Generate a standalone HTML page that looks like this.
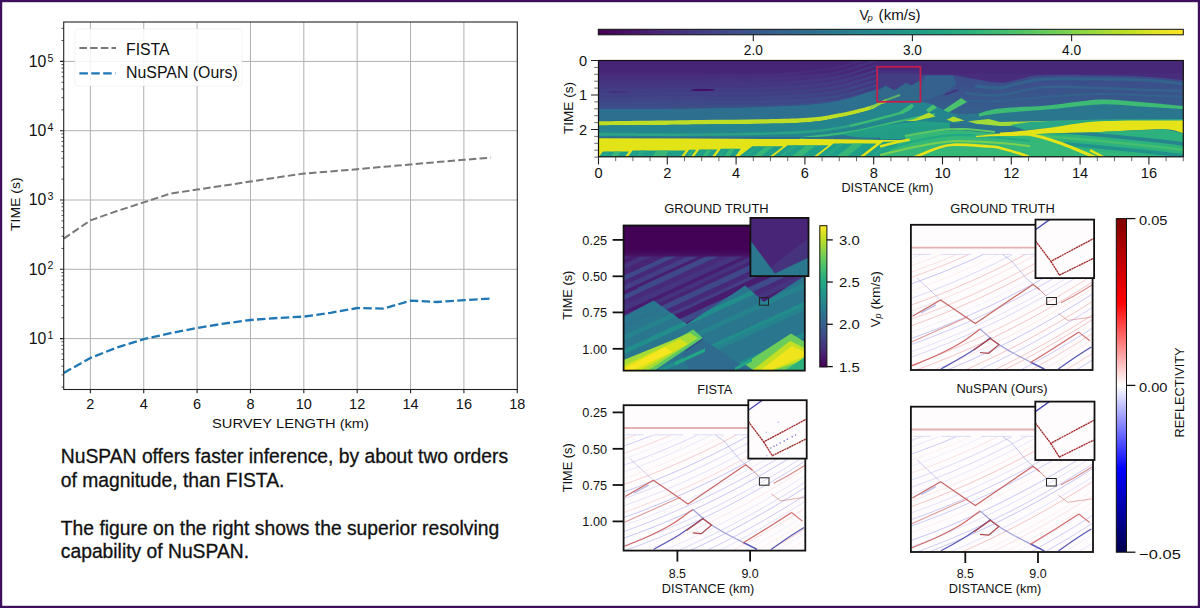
<!DOCTYPE html><html><head><meta charset="utf-8"><style>
html,body{margin:0;padding:0;background:#fff;width:1200px;height:608px;overflow:hidden}
svg{display:block}
text{font-family:"Liberation Sans", sans-serif}
</style></head><body>
<svg width="1200" height="608" viewBox="0 0 1200 608">
<rect x="0" y="0" width="1200" height="608" fill="#fff"/>
<g id="leftchart">
<path d="M90.38 22.0V389.5 M143.74 22.0V389.5 M197.10 22.0V389.5 M250.46 22.0V389.5 M303.82 22.0V389.5 M357.18 22.0V389.5 M410.54 22.0V389.5 M463.90 22.0V389.5 M63.7 338.60H517.3 M63.7 269.30H517.3 M63.7 200.00H517.3 M63.7 130.70H517.3 M63.7 61.40H517.3" stroke="#b0b0b0" stroke-width="1" fill="none"/>
<path d="M63.70 238.60 L90.38 220.40 L117.06 211.00 L143.74 202.40 L170.42 193.60 L197.10 189.60 L223.78 185.60 L250.46 181.60 L277.14 177.40 L303.82 173.60 L330.50 171.40 L357.18 169.20 L383.86 166.80 L410.54 164.40 L437.22 162.10 L463.90 159.80 L490.58 157.60" stroke="#787878" stroke-width="2" fill="none" stroke-dasharray="7.5 3.2"/>
<path d="M63.70 373.00 L90.38 358.00 L117.06 347.50 L143.74 339.20 L170.42 333.20 L197.10 328.00 L223.78 323.60 L250.46 320.00 L277.14 318.00 L303.82 316.60 L330.50 312.80 L357.18 308.00 L383.86 308.60 L410.54 300.60 L437.22 302.00 L463.90 300.20 L490.58 298.60" stroke="#1f77b4" stroke-width="2.3" fill="none" stroke-dasharray="8.5 3.4"/>
<rect x="75" y="29" width="167" height="57" rx="3" fill="#fff" fill-opacity="0.85" stroke="#e8e8e8" stroke-opacity="0.5" stroke-width="1"/>
<path d="M79.4 48H116" stroke="#787878" stroke-width="2" stroke-dasharray="7.5 3.2"/>
<path d="M79.4 73.3H115.5" stroke="#1f77b4" stroke-width="2.3" stroke-dasharray="8.5 3.4"/>
<text x="126.00" y="54.70" font-size="16.8" text-anchor="start" fill="#111" textLength="43.6" lengthAdjust="spacingAndGlyphs" >FISTA</text>
<text x="126.00" y="77.80" font-size="16.8" text-anchor="start" fill="#111" textLength="111.8" lengthAdjust="spacingAndGlyphs" >NuSPAN (Ours)</text>
<rect x="63.7" y="22.0" width="453.60" height="367.5" fill="none" stroke="#222" stroke-width="1.1"/>
<path d="M90.38 389.5V393.2 M143.74 389.5V393.2 M197.10 389.5V393.2 M250.46 389.5V393.2 M303.82 389.5V393.2 M357.18 389.5V393.2 M410.54 389.5V393.2 M463.90 389.5V393.2 M517.26 389.5V393.2 M63.7 338.60H60.0 M63.7 269.30H60.0 M63.7 200.00H60.0 M63.7 130.70H60.0 M63.7 61.40H60.0" stroke="#222" stroke-width="1.1"/>
<path d="M63.7 387.04H61.5 M63.7 374.84H61.5 M63.7 366.18H61.5 M63.7 359.46H61.5 M63.7 353.97H61.5 M63.7 349.33H61.5 M63.7 345.32H61.5 M63.7 341.77H61.5 M63.7 317.74H61.5 M63.7 305.54H61.5 M63.7 296.88H61.5 M63.7 290.16H61.5 M63.7 284.67H61.5 M63.7 280.03H61.5 M63.7 276.02H61.5 M63.7 272.47H61.5 M63.7 248.44H61.5 M63.7 236.24H61.5 M63.7 227.58H61.5 M63.7 220.86H61.5 M63.7 215.37H61.5 M63.7 210.73H61.5 M63.7 206.72H61.5 M63.7 203.17H61.5 M63.7 179.14H61.5 M63.7 166.94H61.5 M63.7 158.28H61.5 M63.7 151.56H61.5 M63.7 146.07H61.5 M63.7 141.43H61.5 M63.7 137.42H61.5 M63.7 133.87H61.5 M63.7 109.84H61.5 M63.7 97.64H61.5 M63.7 88.98H61.5 M63.7 82.26H61.5 M63.7 76.77H61.5 M63.7 72.13H61.5 M63.7 68.12H61.5 M63.7 64.57H61.5 M63.7 40.54H61.5 M63.7 28.34H61.5" stroke="#222" stroke-width="0.8"/>
<text x="90.38" y="409.30" font-size="14.5" text-anchor="middle" fill="#111" >2</text>
<text x="143.74" y="409.30" font-size="14.5" text-anchor="middle" fill="#111" >4</text>
<text x="197.10" y="409.30" font-size="14.5" text-anchor="middle" fill="#111" >6</text>
<text x="250.46" y="409.30" font-size="14.5" text-anchor="middle" fill="#111" >8</text>
<text x="303.82" y="409.30" font-size="14.5" text-anchor="middle" fill="#111" >10</text>
<text x="357.18" y="409.30" font-size="14.5" text-anchor="middle" fill="#111" >12</text>
<text x="410.54" y="409.30" font-size="14.5" text-anchor="middle" fill="#111" >14</text>
<text x="463.90" y="409.30" font-size="14.5" text-anchor="middle" fill="#111" >16</text>
<text x="517.26" y="409.30" font-size="14.5" text-anchor="middle" fill="#111" >18</text>
<text x="28.70" y="344.00" font-size="15.8" text-anchor="start" fill="#111" >10</text>
<text x="47.50" y="338.70" font-size="10.6" text-anchor="start" fill="#111" >1</text>
<text x="28.70" y="274.70" font-size="15.8" text-anchor="start" fill="#111" >10</text>
<text x="47.50" y="269.40" font-size="10.6" text-anchor="start" fill="#111" >2</text>
<text x="28.70" y="205.40" font-size="15.8" text-anchor="start" fill="#111" >10</text>
<text x="47.50" y="200.10" font-size="10.6" text-anchor="start" fill="#111" >3</text>
<text x="28.70" y="136.10" font-size="15.8" text-anchor="start" fill="#111" >10</text>
<text x="47.50" y="130.80" font-size="10.6" text-anchor="start" fill="#111" >4</text>
<text x="28.70" y="66.80" font-size="15.8" text-anchor="start" fill="#111" >10</text>
<text x="47.50" y="61.50" font-size="10.6" text-anchor="start" fill="#111" >5</text>
<text x="290.50" y="427.50" font-size="13.6" text-anchor="middle" fill="#111" textLength="157" lengthAdjust="spacingAndGlyphs" >SURVEY LENGTH (km)</text>
<text transform="translate(20.3,204.2) rotate(-90)" x="0" y="0" font-size="13.6" text-anchor="middle" fill="#111" textLength="53.5" lengthAdjust="spacingAndGlyphs">TIME (s)</text>
</g>
<text x="60.80" y="463.30" font-size="19.3" text-anchor="start" fill="#111" stroke="#111" stroke-width="0.3">NuSPAN offers faster inference, by about two orders</text>
<text x="60.80" y="487.40" font-size="19.3" text-anchor="start" fill="#111" stroke="#111" stroke-width="0.3">of magnitude, than FISTA.</text>
<text x="60.80" y="535.40" font-size="19.3" text-anchor="start" fill="#111" stroke="#111" stroke-width="0.3">The figure on the right shows the superior resolving</text>
<text x="60.80" y="558.40" font-size="19.3" text-anchor="start" fill="#111" stroke="#111" stroke-width="0.3">capability of NuSPAN.</text>
<defs>
<linearGradient id="virH" x1="0" y1="0" x2="1" y2="0"><stop offset="0.000" stop-color="#440154"/><stop offset="0.100" stop-color="#482475"/><stop offset="0.200" stop-color="#414487"/><stop offset="0.300" stop-color="#355f8d"/><stop offset="0.400" stop-color="#2a788e"/><stop offset="0.500" stop-color="#21918c"/><stop offset="0.600" stop-color="#22a884"/><stop offset="0.700" stop-color="#44bf70"/><stop offset="0.800" stop-color="#7ad151"/><stop offset="0.900" stop-color="#bddf26"/><stop offset="1.000" stop-color="#fde725"/></linearGradient>
<linearGradient id="virV" x1="0" y1="1" x2="0" y2="0"><stop offset="0.000" stop-color="#440154"/><stop offset="0.100" stop-color="#482475"/><stop offset="0.200" stop-color="#414487"/><stop offset="0.300" stop-color="#355f8d"/><stop offset="0.400" stop-color="#2a788e"/><stop offset="0.500" stop-color="#21918c"/><stop offset="0.600" stop-color="#22a884"/><stop offset="0.700" stop-color="#44bf70"/><stop offset="0.800" stop-color="#7ad151"/><stop offset="0.900" stop-color="#bddf26"/><stop offset="1.000" stop-color="#fde725"/></linearGradient>
<linearGradient id="seisV" x1="0" y1="1" x2="0" y2="0"><stop offset="0" stop-color="#00004d"/><stop offset="0.25" stop-color="#0000ff"/><stop offset="0.5" stop-color="#ffffff"/><stop offset="0.75" stop-color="#ff0000"/><stop offset="1" stop-color="#800000"/></linearGradient>
</defs>
<rect x="598.3" y="29.3" width="585.0" height="5.5" fill="url(#virH)" stroke="#111" stroke-width="1"/>
<path d="M753.3 34.8V41.3" stroke="#222" stroke-width="1.1"/>
<text x="753.30" y="55.00" font-size="13.8" text-anchor="middle" fill="#111" textLength="19" lengthAdjust="spacingAndGlyphs" >2.0</text>
<path d="M912.4 34.8V41.3" stroke="#222" stroke-width="1.1"/>
<text x="912.40" y="55.00" font-size="13.8" text-anchor="middle" fill="#111" textLength="19" lengthAdjust="spacingAndGlyphs" >3.0</text>
<path d="M1071.6 34.8V41.3" stroke="#222" stroke-width="1.1"/>
<text x="1071.60" y="55.00" font-size="13.8" text-anchor="middle" fill="#111" textLength="19" lengthAdjust="spacingAndGlyphs" >4.0</text>
<text x="859.50" y="19.80" font-size="14" text-anchor="start" fill="#111" >V</text>
<text x="867.60" y="20.60" font-size="9.5" text-anchor="start" fill="#111" font-style="italic">p</text>
<text x="878.60" y="19.80" font-size="14" text-anchor="start" fill="#111" textLength="42" lengthAdjust="spacingAndGlyphs" >(km/s)</text>
<clipPath id="topclip"><rect x="598.5" y="60.5" width="584.8" height="96.3"/></clipPath>
<g clip-path="url(#topclip)" id="topimg">
<rect x="598.5" y="60.5" width="584.8" height="96.3" fill="#3b528b"/>
<defs><linearGradient id="pg" gradientUnits="userSpaceOnUse" x1="0" y1="60" x2="0" y2="108"><stop offset="0" stop-color="#482576"/><stop offset="0.27" stop-color="#482878"/><stop offset="0.32" stop-color="#472e7c"/><stop offset="0.6" stop-color="#443983"/><stop offset="1" stop-color="#3d4d89"/></linearGradient><linearGradient id="bg2" gradientUnits="userSpaceOnUse" x1="0" y1="75" x2="0" y2="110"><stop offset="0" stop-color="#3e4a89"/><stop offset="1" stop-color="#355e8d"/></linearGradient></defs>
<rect x="598.5" y="60.5" width="584.8" height="96.30000000000001" fill="#2a768e"/>
<path d="M598.0 100.0C615.0 100.0 666.3 100.3 700.0 100.0C733.7 99.7 776.7 99.2 800.0 98.0C823.3 96.8 828.3 95.2 840.0 93.0C851.7 90.8 863.3 86.7 870.0 85.0C876.7 83.3 878.3 83.3 880.0 83.0L880.0 102.2C878.3 102.9 876.7 104.3 870.0 106.2C863.3 108.1 851.7 111.4 840.0 113.4C828.3 115.4 823.3 117.3 800.0 118.4C776.7 119.5 733.7 119.7 700.0 120.2C666.3 120.7 615.0 121.3 598.0 121.5Z" fill="#2d6f8e" />
<path d="M921.0 60.0C964.8 60.0 1140.2 60.0 1184.0 60.0L1183.0 107.5C1169.2 106.6 1122.2 102.0 1100.0 102.0C1077.8 102.0 1066.7 105.7 1050.0 107.2C1033.3 108.7 1015.0 109.7 1000.0 110.8C985.0 111.9 973.2 115.1 960.0 114.0C946.8 112.9 927.5 105.7 921.0 104.0Z" fill="url(#bg2)" />
<path d="M598.0 60.0C644.5 60.0 830.5 60.0 877.0 60.0L877.0 90.0C875.8 90.2 876.2 89.8 870.0 91.5C863.8 93.2 851.7 98.0 840.0 100.3C828.3 102.6 823.3 103.8 800.0 105.2C776.7 106.6 733.7 107.8 700.0 108.4C666.3 109.0 615.0 108.9 598.0 109.0Z" fill="url(#pg)" />
<path d="M870.0 91.5 L877.0 91.0 L885.6 85.4 L894.2 90.5 L906.2 82.8 L911.3 85.4 L921.0 80.0 L921.0 104.0 L877.0 104.0Z" fill="#31698d" />
<path d="M877.0 60.0 L921.0 60.0 L921.0 80.0 L911.3 85.4 L906.2 82.8 L894.2 90.5 L885.6 85.4 L877.0 91.0Z" fill="#433d84" />
<path d="M877.0 60.0 L921.0 60.0 L921.0 70.0 L877.0 70.0Z" fill="#472a7a" />
<path d="M921.0 60.0C964.8 60.0 1140.2 60.0 1184.0 60.0L1184.0 80.1C1178.3 79.6 1164.0 77.7 1150.0 76.9C1136.0 76.1 1118.3 75.6 1100.0 75.3C1081.7 75.0 1053.3 74.7 1040.0 75.3C1026.7 75.9 1026.7 77.8 1020.0 79.0C1013.3 80.2 1007.5 82.6 1000.0 82.6C992.5 82.6 982.8 80.2 975.0 79.0C967.2 77.8 962.2 75.9 953.2 75.3C944.2 74.7 926.4 75.3 921.0 75.3Z" fill="#472d7b" />
<path d="M598.0 60.0C695.7 60.0 1086.3 60.0 1184.0 60.0L1184.0 73.5C1120.0 73.5 897.7 73.6 800.0 73.5C702.3 73.4 631.7 73.0 598.0 72.9Z" fill="#482576" opacity="0.6"/>
<clipPath id="pzc"><path d="M598.0 60.0C644.5 60.0 830.5 60.0 877.0 60.0L877.0 90.0C875.8 90.2 876.2 89.8 870.0 91.5C863.8 93.2 851.7 98.0 840.0 100.3C828.3 102.6 823.3 103.8 800.0 105.2C776.7 106.6 733.7 107.8 700.0 108.4C666.3 109.0 615.0 108.9 598.0 109.0Z" fill="#000" /></clipPath><g clip-path="url(#pzc)">
<path d="M598.0 76.0C615.0 76.0 673.0 75.9 700.0 75.7C727.0 75.5 743.3 75.5 760.0 75.0C776.7 74.5 786.7 73.8 800.0 72.5C813.3 71.1 826.7 70.0 840.0 66.9C853.3 63.8 873.3 56.0 880.0 53.9" fill="none" stroke="#472f7c" stroke-width="2" opacity="0.9"/>
<path d="M598.0 80.5C615.0 80.5 673.0 80.4 700.0 80.2C727.0 80.0 743.3 80.0 760.0 79.5C776.7 79.0 786.7 78.4 800.0 77.1C813.3 75.8 826.7 74.8 840.0 71.7C853.3 68.7 873.3 61.1 880.0 59.0" fill="none" stroke="#46337f" stroke-width="2" opacity="0.9"/>
<path d="M598.0 85.0C615.0 85.0 673.0 84.9 700.0 84.7C727.0 84.5 743.3 84.5 760.0 84.0C776.7 83.5 786.7 83.0 800.0 81.8C813.3 80.5 826.7 79.5 840.0 76.5C853.3 73.6 873.3 66.1 880.0 64.1" fill="none" stroke="#45387f" stroke-width="2.2" opacity="0.9"/>
<path d="M598.0 89.5C615.0 89.5 673.0 89.4 700.0 89.2C727.0 89.0 743.3 89.0 760.0 88.5C776.7 88.0 786.7 87.6 800.0 86.4C813.3 85.2 826.7 84.2 840.0 81.3C853.3 78.5 873.3 71.2 880.0 69.2" fill="none" stroke="#433e85" stroke-width="2.2" opacity="0.9"/>
<path d="M598.0 94.0C615.0 94.0 673.0 93.9 700.0 93.7C727.0 93.5 743.3 93.4 760.0 93.0C776.7 92.6 786.7 92.2 800.0 91.1C813.3 89.9 826.7 88.9 840.0 86.1C853.3 83.3 873.3 76.2 880.0 74.3" fill="none" stroke="#414386" stroke-width="2.2" opacity="0.9"/>
<path d="M598.0 98.5C615.0 98.5 673.0 98.4 700.0 98.2C727.0 98.0 743.3 97.9 760.0 97.5C776.7 97.1 786.7 96.8 800.0 95.7C813.3 94.6 826.7 93.7 840.0 90.9C853.3 88.2 873.3 81.3 880.0 79.4" fill="none" stroke="#3f4788" stroke-width="2.2" opacity="0.9"/>
<path d="M598.0 103.0C615.0 103.0 673.0 102.9 700.0 102.7C727.0 102.5 743.3 102.4 760.0 102.0C776.7 101.6 786.7 101.4 800.0 100.4C813.3 99.3 826.7 98.4 840.0 95.7C853.3 93.1 873.3 86.3 880.0 84.5" fill="none" stroke="#3d4d89" stroke-width="2.2" opacity="0.9"/>
<path d="M598.0 107.0C615.0 107.0 673.0 106.9 700.0 106.7C727.0 106.5 743.3 106.4 760.0 106.0C776.7 105.6 786.7 105.5 800.0 104.5C813.3 103.5 826.7 102.6 840.0 100.0C853.3 97.4 873.3 90.8 880.0 89.0" fill="none" stroke="#3b518b" stroke-width="2" opacity="0.9"/>
</g>
<ellipse cx="703" cy="89.9" rx="12" ry="1.2" fill="#440f66"/>
<ellipse cx="618" cy="92" rx="10" ry="0.8" fill="#45206f" opacity="0.6"/>
<path d="M975.0 86.0C979.2 86.3 992.5 88.5 1000.0 88.0C1007.5 87.5 1012.5 84.5 1020.0 83.0C1027.5 81.5 1031.7 79.7 1045.0 79.0C1058.3 78.3 1082.5 78.8 1100.0 79.0C1117.5 79.2 1136.0 79.7 1150.0 80.5C1164.0 81.3 1178.3 83.4 1184.0 84.0" fill="none" stroke="#33638d" stroke-width="3" />
<path d="M965.0 93.0C970.8 93.3 986.7 96.0 1000.0 95.0C1013.3 94.0 1028.3 88.2 1045.0 87.0C1061.7 85.8 1082.5 87.5 1100.0 88.0C1117.5 88.5 1136.0 89.5 1150.0 90.0C1164.0 90.5 1178.3 90.8 1184.0 91.0" fill="none" stroke="#34618d" stroke-width="2.5" />
<path d="M960.0 101.0C966.7 101.0 985.8 101.7 1000.0 101.0C1014.2 100.3 1028.3 98.2 1045.0 97.0C1061.7 95.8 1076.8 94.0 1100.0 94.0C1123.2 94.0 1170.0 96.5 1184.0 97.0" fill="none" stroke="#33628d" stroke-width="2" />
<path d="M925.8 75.3 L953.2 75.3 L956.5 84.2 L945.0 93.0 L930.0 99.0 L921.0 102.0 L921.0 84.0Z" fill="#34618d" />
<path d="M945.0 94.7 L958.0 89.8" fill="none" stroke="#46307f" stroke-width="1.5" />
<path d="M921.0 104.0C927.5 105.7 946.8 112.9 960.0 114.0C973.2 115.1 985.0 111.9 1000.0 110.8C1015.0 109.7 1033.3 108.7 1050.0 107.2C1066.7 105.7 1077.8 102.0 1100.0 102.0C1122.2 102.0 1169.2 106.6 1183.0 107.5L1184.0 121.0C1140.2 121.7 964.8 124.3 921.0 125.0Z" fill="#2a768e" />
<path d="M979.0 113.2C982.5 112.4 988.2 109.7 1000.0 108.4C1011.8 107.1 1033.3 106.7 1050.0 105.2C1066.7 103.7 1085.0 100.0 1100.0 99.5C1115.0 99.0 1126.2 100.9 1140.0 102.0C1153.8 103.1 1175.8 105.3 1183.0 106.0L1183.0 109.1C1175.8 108.7 1153.8 107.3 1140.0 106.5C1126.2 105.7 1115.0 104.0 1100.0 104.4C1085.0 104.9 1066.7 107.7 1050.0 109.2C1033.3 110.7 1011.8 112.0 1000.0 113.2C988.2 114.4 982.5 116.0 979.0 116.5Z" fill="#3dbb74" />
<path d="M598.0 121.3C615.0 121.1 666.3 120.5 700.0 120.0C733.7 119.5 776.7 119.3 800.0 118.2C823.3 117.1 828.3 115.2 840.0 113.2C851.7 111.2 863.3 107.9 870.0 106.0C876.7 104.1 877.3 103.2 880.0 102.0C882.7 100.8 885.0 99.5 886.0 99.0L886.0 103.0C885.0 103.5 882.7 104.8 880.0 106.0C877.3 107.2 876.7 108.1 870.0 110.0C863.3 111.9 851.7 115.2 840.0 117.3C828.3 119.4 823.3 121.5 800.0 122.7C776.7 123.9 733.7 124.0 700.0 124.5C666.3 125.0 615.0 125.3 598.0 125.5Z" fill="#bede26" />
<path d="M870.0 108.0C872.3 106.8 879.0 103.2 884.0 101.0C889.0 98.8 897.3 96.0 900.0 95.0" fill="none" stroke="#6ccd5a" stroke-width="2.2" opacity="0.7"/>
<path d="M598.0 125.5C615.0 125.3 666.3 125.0 700.0 124.5C733.7 124.0 776.7 123.9 800.0 122.7C823.3 121.5 828.3 119.4 840.0 117.3C851.7 115.2 862.3 112.4 870.0 110.0C877.7 107.6 877.5 104.3 886.0 103.0C894.5 101.7 912.0 101.2 921.0 102.0C930.0 102.8 933.5 105.3 940.0 108.0C946.5 110.7 956.7 116.3 960.0 118.0L960.0 125.0C953.3 125.2 936.7 124.7 920.0 126.0C903.3 127.3 880.0 131.1 860.0 133.0C840.0 134.9 843.7 136.8 800.0 137.5C756.3 138.2 631.7 137.1 598.0 137.0Z" fill="#24858e" />
<path d="M598.0 132.8C615.0 132.9 666.3 133.7 700.0 133.4C733.7 133.1 775.0 132.5 800.0 131.0C825.0 129.5 833.3 127.7 850.0 124.5C866.7 121.3 889.7 114.8 900.0 111.6C910.3 108.3 910.0 106.1 912.0 105.0L912.0 108.0C910.0 109.1 910.3 111.3 900.0 114.5C889.7 117.7 866.7 123.8 850.0 127.0C833.3 130.2 825.0 132.1 800.0 133.6C775.0 135.1 733.7 135.4 700.0 135.8C666.3 136.2 615.0 135.8 598.0 135.8Z" fill="#2ba285" />
<path d="M850.0 126.0C858.3 123.8 889.7 116.2 900.0 113.0C910.3 109.8 910.0 108.0 912.0 107.0" fill="none" stroke="#3dbb74" stroke-width="2" />
<path d="M800.0 138.0C808.3 137.0 833.3 134.8 850.0 132.0C866.7 129.2 885.8 124.0 900.0 121.0C914.2 118.0 929.2 115.2 935.0 114.0" fill="none" stroke="#3aba76" stroke-width="2" />
<path d="M943.5 110.0 L961.3 97.9 L967.0 102.0 L948.4 112.4Z" fill="#4ac16d" />
<path d="M925.8 110.0 L933.0 104.4 L937.0 107.6 L929.0 112.4Z" fill="#4ac16d" />
<path d="M900.0 111.6 L912.0 103.5 L914.0 106.5 L902.0 114.5Z" fill="#3dbb74" />
<path d="M905.0 121.0 L914.5 118.9 L929.0 112.4 L935.5 116.5 L915.0 121.0Z" fill="#b5de2b" />
<path d="M946.8 119.7 L953.2 116.5 L964.5 120.5 L953.2 122.1Z" fill="#b5de2b" />
<path d="M967.7 121.3 L988.7 118.9 L1000.0 122.1 L1040.0 121.0 L1100.0 120.5 L1100.0 124.0 L1000.0 126.1 L975.8 123.7Z" fill="#a2da37" />
<path d="M840.0 134.5 L880.0 126.0 L920.0 121.0 L950.0 123.0 L950.0 131.0 L920.0 135.0 L900.0 139.0 L870.0 139.5Z" fill="#22a385" opacity="0.85"/>
<path d="M950.0 123.0 L990.0 126.0 L1020.0 128.0 L1040.0 131.0 L1000.0 136.0 L975.0 136.0 L950.0 128.0Z" fill="#2d708e" />
<path d="M598.0 137.1C631.7 137.2 753.0 137.4 800.0 137.6C847.0 137.8 866.7 138.3 880.0 138.5" fill="none" stroke="#2d6e8e" stroke-width="1.3" />
<path d="M598.0 138.3 L700.0 138.7 L800.0 139.0 L880.0 140.0 L908.0 140.6 L908.0 141.2 L880.0 142.0 L850.0 143.0 L800.0 144.8 L758.0 145.3 L740.0 147.0 L680.0 149.5 L598.0 151.0 L598.0 158.0 L880.0 158.0 L905.0 141.2Z" fill="#e3e418" />
<path d="M598.0 138.3 L700.0 138.7 L800.0 139.0 L880.0 140.0 L908.0 140.6 L905.0 141.5 L878.0 158.0 L598.0 158.0Z" fill="#e3e418" />
<path d="M598.0 158.0 L602.9 151.5 L628.9 151.5 L624.0 158.0Z" fill="#1f9e89" />
<path d="M609.7 158.0 L614.6 151.5 L621.1 151.5 L616.2 158.0Z" fill="#3dbc74" opacity="0.8"/>
<path d="M601.9 158.0 L606.8 151.5 L609.4 151.5 L604.5 158.0Z" fill="#2aa884" opacity="0.8"/>
<path d="M627.0 158.0 L632.6 150.5 L685.6 150.5 L680.0 158.0Z" fill="#1f9e89" />
<path d="M650.9 158.0 L656.5 150.5 L669.7 150.5 L664.1 158.0Z" fill="#3dbc74" opacity="0.8"/>
<path d="M635.0 158.0 L640.6 150.5 L645.9 150.5 L640.2 158.0Z" fill="#2aa884" opacity="0.8"/>
<path d="M683.0 158.0 L689.1 149.8 L696.1 149.8 L690.0 158.0Z" fill="#1f9e89" />
<path d="M686.1 158.0 L692.3 149.8 L694.0 149.8 L687.9 158.0Z" fill="#3dbc74" opacity="0.8"/>
<path d="M684.0 158.0 L690.2 149.8 L690.9 149.8 L684.8 158.0Z" fill="#2aa884" opacity="0.8"/>
<path d="M693.0 158.0 L699.4 149.5 L717.4 149.5 L711.0 158.0Z" fill="#1f9e89" />
<path d="M701.1 158.0 L707.5 149.5 L712.0 149.5 L705.6 158.0Z" fill="#3dbc74" opacity="0.8"/>
<path d="M695.7 158.0 L702.1 149.5 L703.9 149.5 L697.5 158.0Z" fill="#2aa884" opacity="0.8"/>
<path d="M714.0 158.0 L720.9 148.8 L740.9 148.8 L734.0 158.0Z" fill="#1f9e89" />
<path d="M723.0 158.0 L729.9 148.8 L734.9 148.8 L728.0 158.0Z" fill="#3dbc74" opacity="0.8"/>
<path d="M717.0 158.0 L723.9 148.8 L725.9 148.8 L719.0 158.0Z" fill="#2aa884" opacity="0.8"/>
<path d="M737.0 158.0 L752.3 146.2 L783.3 146.2 L768.0 158.0Z" fill="#1f9e89" />
<path d="M751.0 158.0 L766.3 146.2 L774.0 146.2 L758.7 158.0Z" fill="#3dbc74" opacity="0.8"/>
<path d="M741.6 158.0 L757.0 146.2 L760.1 146.2 L744.8 158.0Z" fill="#2aa884" opacity="0.8"/>
<path d="M771.0 158.0 L787.6 145.2 L828.6 145.2 L812.0 158.0Z" fill="#1f9e89" />
<path d="M789.5 158.0 L806.1 145.2 L816.3 145.2 L799.7 158.0Z" fill="#3dbc74" opacity="0.8"/>
<path d="M777.1 158.0 L793.8 145.2 L797.9 145.2 L781.2 158.0Z" fill="#2aa884" opacity="0.8"/>
<path d="M815.0 158.0 L833.7 143.6 L876.7 143.6 L858.0 158.0Z" fill="#1f9e89" />
<path d="M834.4 158.0 L853.1 143.6 L863.8 143.6 L845.1 158.0Z" fill="#3dbc74" opacity="0.8"/>
<path d="M821.5 158.0 L840.2 143.6 L844.5 143.6 L825.8 158.0Z" fill="#2aa884" opacity="0.8"/>
<path d="M862.0 158.0 L883.1 141.8 L924.1 141.8 L903.0 158.0Z" fill="#1f9e89" />
<path d="M880.5 158.0 L901.5 141.8 L911.8 141.8 L890.7 158.0Z" fill="#3dbc74" opacity="0.8"/>
<path d="M868.1 158.0 L889.2 141.8 L893.3 141.8 L872.2 158.0Z" fill="#2aa884" opacity="0.8"/>
<path d="M905.0 137.0 L930.0 132.0 L960.0 130.0 L1000.0 134.0 L1029.0 134.2 L1060.0 143.0 L1096.8 158.0 L878.0 158.0 L905.0 141.0Z" fill="#35b779" />
<path d="M885.0 150.0C890.8 148.3 908.3 142.5 920.0 140.0C931.7 137.5 943.3 135.5 955.0 135.0C966.7 134.5 977.5 136.0 990.0 137.0C1002.5 138.0 1023.3 140.3 1030.0 141.0" fill="none" stroke="#22a884" stroke-width="2.2" />
<path d="M880.0 155.0C886.7 153.5 907.5 148.3 920.0 146.0C932.5 143.7 941.7 141.5 955.0 141.0C968.3 140.5 987.5 142.2 1000.0 143.0C1012.5 143.8 1025.0 145.5 1030.0 146.0" fill="none" stroke="#7ad151" stroke-width="2" />
<path d="M905.0 136.0C910.8 135.0 930.0 131.2 940.0 130.0C950.0 128.8 955.8 128.7 965.0 129.0C974.2 129.3 990.0 131.5 995.0 132.0" fill="none" stroke="#5ec962" stroke-width="2" />
<path d="M913.0 158.0C916.7 156.5 928.3 151.2 935.0 149.0C941.7 146.8 944.0 145.1 953.2 144.7C962.4 144.3 982.2 146.0 990.0 146.5C997.8 147.0 994.3 146.5 1000.0 147.9C1005.7 149.3 1019.0 153.3 1024.0 155.0C1029.0 156.7 1029.0 157.5 1030.0 158.0" fill="none" stroke="#e8e419" stroke-width="2.6" />
<path d="M880.0 146.5C883.3 145.7 895.0 142.6 900.0 141.5C905.0 140.4 908.1 140.1 909.7 139.8" fill="none" stroke="#dfe318" stroke-width="2.5" />
<path d="M1010.0 125.0 L1030.0 122.0 L1050.0 121.0 L1100.0 119.5 L1184.0 119.0 L1184.0 123.0 L1100.0 124.0 L1050.0 128.0 L1025.0 130.0Z" fill="#2aa784" />
<path d="M975.8 135.8C979.8 135.4 992.6 134.2 1000.0 133.4C1007.4 132.6 1011.7 131.9 1020.0 131.0C1028.3 130.1 1036.7 129.3 1050.0 127.7C1063.3 126.1 1077.8 122.5 1100.0 121.3C1122.2 120.1 1169.2 120.6 1183.0 120.4L1184.0 133.5C1180.8 132.8 1175.7 129.7 1165.0 129.3C1154.3 128.9 1132.5 130.4 1120.0 130.9C1107.5 131.4 1101.7 132.1 1090.0 132.5C1078.3 132.9 1061.7 132.8 1050.0 133.4C1038.3 134.0 1028.3 135.4 1020.0 135.8C1011.7 136.2 1007.4 135.8 1000.0 136.0C992.6 136.2 979.8 136.8 975.8 137.0Z" fill="#e5e419" />
<path d="M1029.0 134.2 L1050.0 133.4 L1090.0 132.5 L1120.0 130.9 L1165.0 129.3 L1184.0 133.5 L1184.0 158.0 L1096.8 158.0 L1060.0 143.0Z" fill="#2db27d" />
<clipPath id="lrz"><path d="M1029.0 134.2 L1050.0 133.4 L1090.0 132.5 L1120.0 130.9 L1165.0 129.3 L1184.0 133.5 L1184.0 158.0 L1096.8 158.0 L1060.0 143.0Z" fill="#000" /></clipPath><g clip-path="url(#lrz)">
<path d="M1040.0 130.0C1050.0 130.8 1081.7 133.3 1100.0 135.0C1118.3 136.7 1136.0 138.5 1150.0 140.0C1164.0 141.5 1178.3 143.3 1184.0 144.0" fill="none" stroke="#25848e" stroke-width="3.5" />
<path d="M1040.0 136.0C1050.0 136.8 1081.7 139.3 1100.0 141.0C1118.3 142.7 1136.0 144.5 1150.0 146.0C1164.0 147.5 1178.3 149.3 1184.0 150.0" fill="none" stroke="#44bf70" stroke-width="2.5" />
<path d="M1040.0 142.0C1050.0 142.8 1081.7 145.3 1100.0 147.0C1118.3 148.7 1136.0 150.5 1150.0 152.0C1164.0 153.5 1178.3 155.3 1184.0 156.0" fill="none" stroke="#21918c" stroke-width="3.5" />
<path d="M1040.0 148.0C1050.0 148.8 1081.7 151.3 1100.0 153.0C1118.3 154.7 1136.0 156.5 1150.0 158.0C1164.0 159.5 1178.3 161.3 1184.0 162.0" fill="none" stroke="#35b779" stroke-width="2.5" />
<path d="M1040.0 154.0C1050.0 154.8 1081.7 157.3 1100.0 159.0C1118.3 160.7 1136.0 162.5 1150.0 164.0C1164.0 165.5 1178.3 167.3 1184.0 168.0" fill="none" stroke="#25848e" stroke-width="3.5" />
<path d="M1040.0 160.0C1050.0 160.8 1081.7 163.3 1100.0 165.0C1118.3 166.7 1136.0 168.5 1150.0 170.0C1164.0 171.5 1178.3 173.3 1184.0 174.0" fill="none" stroke="#44bf70" stroke-width="2.5" />
<path d="M1040.0 166.0C1050.0 166.8 1081.7 169.3 1100.0 171.0C1118.3 172.7 1136.0 174.5 1150.0 176.0C1164.0 177.5 1178.3 179.3 1184.0 180.0" fill="none" stroke="#22a884" stroke-width="3" />
<path d="M1040.0 172.0C1050.0 172.8 1081.7 175.3 1100.0 177.0C1118.3 178.7 1136.0 180.5 1150.0 182.0C1164.0 183.5 1178.3 185.3 1184.0 186.0" fill="none" stroke="#2a788e" stroke-width="3" />
</g>
<path d="M1000.0 134.0C1004.8 134.0 1019.0 132.7 1029.0 134.2C1039.0 135.7 1048.7 139.0 1060.0 143.0C1071.3 147.0 1090.7 155.5 1096.8 158.0" fill="none" stroke="#e5e419" stroke-width="3" />
<path d="M1090.0 150.2C1092.5 151.5 1102.5 156.7 1105.0 158.0" fill="none" stroke="#e5e419" stroke-width="2.5" />
</g>
<rect x="598.5" y="60.5" width="584.8" height="96.3" fill="none" stroke="#111" stroke-width="1.2"/>
<rect x="877.2" y="66.8" width="43.2" height="35" fill="none" stroke="#c41f4a" stroke-width="1.8"/>
<path d="M598.50 156.8V164.4 M667.30 156.8V164.4 M736.10 156.8V164.4 M804.90 156.8V164.4 M873.70 156.8V164.4 M942.50 156.8V164.4 M1011.30 156.8V164.4 M1080.10 156.8V164.4 M1148.90 156.8V164.4 M598.5 60.50H591.0 M598.5 95.00H591.0 M598.5 129.50H591.0" stroke="#222" stroke-width="1.1"/>
<path d="M632.90 156.8V161.20000000000002 M701.70 156.8V161.20000000000002 M770.50 156.8V161.20000000000002 M839.30 156.8V161.20000000000002 M908.10 156.8V161.20000000000002 M976.90 156.8V161.20000000000002 M1045.70 156.8V161.20000000000002 M1114.50 156.8V161.20000000000002 M1183.30 156.8V161.20000000000002 M615.70 156.8V161.20000000000002 M650.10 156.8V161.20000000000002 M684.50 156.8V161.20000000000002 M718.90 156.8V161.20000000000002 M753.30 156.8V161.20000000000002 M787.70 156.8V161.20000000000002 M822.10 156.8V161.20000000000002 M856.50 156.8V161.20000000000002 M890.90 156.8V161.20000000000002 M925.30 156.8V161.20000000000002 M959.70 156.8V161.20000000000002 M994.10 156.8V161.20000000000002 M1028.50 156.8V161.20000000000002 M1062.90 156.8V161.20000000000002 M1097.30 156.8V161.20000000000002 M1131.70 156.8V161.20000000000002 M1166.10 156.8V161.20000000000002 M598.5 67.40H594.3 M598.5 74.30H594.3 M598.5 81.20H594.3 M598.5 88.10H594.3 M598.5 101.90H594.3 M598.5 108.80H594.3 M598.5 115.70H594.3 M598.5 122.60H594.3 M598.5 136.40H594.3 M598.5 143.30H594.3 M598.5 150.20H594.3 M598.5 157.10H594.3" stroke="#444" stroke-width="0.8"/>
<text x="598.50" y="177.70" font-size="14.6" text-anchor="middle" fill="#111" >0</text>
<text x="667.30" y="177.70" font-size="14.6" text-anchor="middle" fill="#111" >2</text>
<text x="736.10" y="177.70" font-size="14.6" text-anchor="middle" fill="#111" >4</text>
<text x="804.90" y="177.70" font-size="14.6" text-anchor="middle" fill="#111" >6</text>
<text x="873.70" y="177.70" font-size="14.6" text-anchor="middle" fill="#111" >8</text>
<text x="942.50" y="177.70" font-size="14.6" text-anchor="middle" fill="#111" >10</text>
<text x="1011.30" y="177.70" font-size="14.6" text-anchor="middle" fill="#111" >12</text>
<text x="1080.10" y="177.70" font-size="14.6" text-anchor="middle" fill="#111" >14</text>
<text x="1148.90" y="177.70" font-size="14.6" text-anchor="middle" fill="#111" >16</text>
<text x="583.00" y="65.70" font-size="14.6" text-anchor="middle" fill="#111" >0</text>
<text x="583.00" y="100.20" font-size="14.6" text-anchor="middle" fill="#111" >1</text>
<text x="583.00" y="134.70" font-size="14.6" text-anchor="middle" fill="#111" >2</text>
<text x="887.40" y="192.00" font-size="12.6" text-anchor="middle" fill="#111" textLength="92" lengthAdjust="spacingAndGlyphs" >DISTANCE (km)</text>
<text transform="translate(572.7,108) rotate(-90)" font-size="12.6" text-anchor="middle" fill="#111" textLength="52" lengthAdjust="spacingAndGlyphs">TIME (s)</text>
<clipPath id="clipA"><rect x="623.6" y="225.5" width="181.2" height="145.1"/></clipPath>
<g clip-path="url(#clipA)"><rect x="623.6" y="225.5" width="181.2" height="145.1" fill="#482878"/><rect x="623.6" y="225.5" width="181.19999999999993" height="145.10000000000002" fill="#462e7c"/>
<path d="M618.6 261.8C652.2 246.4 786.4 184.6 820.0 169.2L820.0 174.4C786.4 189.9 652.2 251.6 618.6 267.1Z" fill="#481d6f" opacity="1"/>
<path d="M618.6 266.7C652.2 251.2 786.4 189.5 820.0 174.0L820.0 179.6C786.4 195.0 652.2 256.8 618.6 272.2Z" fill="#45337f" opacity="1"/>
<path d="M618.6 271.8C652.2 256.4 786.4 194.6 820.0 179.2L820.0 185.9C786.4 201.3 652.2 263.1 618.6 278.5Z" fill="#482474" opacity="1"/>
<path d="M618.6 278.1C652.2 262.7 786.4 200.9 820.0 185.5L820.0 190.8C786.4 206.2 652.2 268.0 618.6 283.4Z" fill="#3f4888" opacity="1"/>
<path d="M618.6 283.0C652.2 267.6 786.4 205.8 820.0 190.4L820.0 195.8C786.4 211.2 652.2 273.0 618.6 288.4Z" fill="#47297a" opacity="1"/>
<path d="M618.6 288.0C652.2 272.6 786.4 210.8 820.0 195.4L820.0 201.0C786.4 216.5 652.2 278.3 618.6 293.7Z" fill="#433e85" opacity="1"/>
<path d="M618.6 293.3C652.2 277.9 786.4 216.1 820.0 200.6L820.0 205.1C786.4 220.5 652.2 282.3 618.6 297.7Z" fill="#481c6e" opacity="1"/>
<path d="M618.6 297.3C652.2 281.9 786.4 220.1 820.0 204.7L820.0 210.1C786.4 225.6 652.2 287.3 618.6 302.8Z" fill="#3e4a89" opacity="1"/>
<path d="M618.6 302.4C652.2 286.9 786.4 225.2 820.0 209.7L820.0 215.5C786.4 231.0 652.2 292.7 618.6 308.2Z" fill="#472b7a" opacity="1"/>
<path d="M618.6 307.8C652.2 292.3 786.4 230.6 820.0 215.1L820.0 221.4C786.4 236.8 652.2 298.6 618.6 314.1Z" fill="#45347f" opacity="1"/>
<path d="M618.6 313.7C652.2 298.2 786.4 236.4 820.0 221.0L820.0 225.2C786.4 240.6 652.2 302.4 618.6 317.8Z" fill="#481d6f" opacity="1"/>
<path d="M618.6 317.4C652.2 302.0 786.4 240.2 820.0 224.8L820.0 229.6C786.4 245.0 652.2 306.8 618.6 322.2Z" fill="#45337f" opacity="1"/>
<path d="M618.6 321.8C652.2 306.4 786.4 244.6 820.0 229.2L820.0 233.4C786.4 248.8 652.2 310.6 618.6 326.0Z" fill="#482474" opacity="1"/>
<path d="M618.6 325.6C652.2 310.2 786.4 248.4 820.0 233.0L820.0 239.3C786.4 254.7 652.2 316.5 618.6 331.9Z" fill="#3f4888" opacity="1"/>
<path d="M618.6 331.5C652.2 316.1 786.4 254.3 820.0 238.9L820.0 244.9C786.4 260.3 652.2 322.1 618.6 337.5Z" fill="#47297a" opacity="1"/>
<path d="M618.6 337.1C652.2 321.7 786.4 259.9 820.0 244.5L820.0 248.5C786.4 263.9 652.2 325.7 618.6 341.1Z" fill="#433e85" opacity="1"/>
<path d="M618.6 340.7C652.2 325.3 786.4 263.5 820.0 248.1L820.0 255.0C786.4 270.4 652.2 332.2 618.6 347.6Z" fill="#481c6e" opacity="1"/>
<path d="M618.6 347.2C652.2 331.8 786.4 270.0 820.0 254.6L820.0 261.3C786.4 276.8 652.2 338.5 618.6 354.0Z" fill="#3e4a89" opacity="1"/>
<path d="M618.6 353.6C652.2 338.1 786.4 276.4 820.0 260.9L820.0 266.8C786.4 282.2 652.2 344.0 618.6 359.5Z" fill="#472b7a" opacity="1"/>
<path d="M618.6 359.1C652.2 343.6 786.4 281.8 820.0 266.4L820.0 272.2C786.4 287.6 652.2 349.4 618.6 364.8Z" fill="#45347f" opacity="1"/>
<path d="M618.6 364.4C652.2 349.0 786.4 287.2 820.0 271.8L820.0 276.1C786.4 291.6 652.2 353.3 618.6 368.8Z" fill="#481d6f" opacity="1"/>
<path d="M618.6 368.4C652.2 352.9 786.4 291.2 820.0 275.7L820.0 279.7C786.4 295.1 652.2 356.9 618.6 372.3Z" fill="#45337f" opacity="1"/>
<path d="M618.6 371.9C652.2 356.5 786.4 294.7 820.0 279.3L820.0 284.8C786.4 300.2 652.2 362.0 618.6 377.4Z" fill="#482474" opacity="1"/>
<path d="M618.6 377.0C652.2 361.6 786.4 299.8 820.0 284.4L820.0 288.4C786.4 303.9 652.2 365.6 618.6 381.1Z" fill="#3f4888" opacity="1"/>
<path d="M618.6 380.7C652.2 365.2 786.4 303.5 820.0 288.0L820.0 292.5C786.4 307.9 652.2 369.7 618.6 385.2Z" fill="#47297a" opacity="1"/>
<path d="M618.6 384.8C652.2 369.3 786.4 307.5 820.0 292.1L820.0 296.7C786.4 312.2 652.2 373.9 618.6 389.4Z" fill="#433e85" opacity="1"/>
<path d="M618.6 389.0C652.2 373.5 786.4 311.8 820.0 296.3L820.0 300.3C786.4 315.8 652.2 377.5 618.6 393.0Z" fill="#481c6e" opacity="1"/>
<path d="M618.6 392.6C652.2 377.1 786.4 315.4 820.0 299.9L820.0 305.2C786.4 320.7 652.2 382.4 618.6 397.9Z" fill="#3e4a89" opacity="1"/>
<path d="M618.6 397.5C652.2 382.0 786.4 320.3 820.0 304.8L820.0 310.0C786.4 325.5 652.2 387.2 618.6 402.7Z" fill="#472b7a" opacity="1"/>
<path d="M618.6 402.3C652.2 386.8 786.4 325.1 820.0 309.6L820.0 316.1C786.4 331.5 652.2 393.3 618.6 408.7Z" fill="#45347f" opacity="1"/>
<path d="M618.6 408.3C652.2 392.9 786.4 331.1 820.0 315.7L820.0 321.1C786.4 336.6 652.2 398.3 618.6 413.8Z" fill="#481d6f" opacity="1"/>
<path d="M618.6 413.4C652.2 397.9 786.4 336.2 820.0 320.7L820.0 326.5C786.4 342.0 652.2 403.7 618.6 419.2Z" fill="#45337f" opacity="1"/>
<path d="M618.6 418.8C652.2 403.3 786.4 341.6 820.0 326.1L820.0 331.5C786.4 347.0 652.2 408.7 618.6 424.2Z" fill="#482474" opacity="1"/>
<path d="M637.8 287.5C668.2 273.5 789.6 217.7 820.0 203.7L820.0 208.7C789.6 222.7 668.2 278.5 637.8 292.5Z" fill="#3f4888" opacity="0.9"/>
<rect x="623.6" y="225.5" width="181.19999999999993" height="25.3" fill="#440256"/>
<linearGradient id="wg" x1="0" y1="0" x2="0" y2="1"><stop offset="0" stop-color="#440256"/><stop offset="1" stop-color="#471668"/></linearGradient>
<rect x="623.6" y="250.6" width="181.19999999999993" height="6" fill="url(#wg)"/>
<path d="M623.6 316.4 L653.6 300.6 L687.1 324.3 L745.2 285.4 L764.0 302.0 L804.8 276.0 L804.8 370.6 L623.6 370.6Z" fill="#2a768e" />
<clipPath id="tzc"><path d="M623.6 316.4 L653.6 300.6 L687.1 324.3 L745.2 285.4 L764.0 302.0 L804.8 276.0 L804.8 370.6 L623.6 370.6Z" fill="#000" /></clipPath><g clip-path="url(#tzc)">
<path d="M583.6 353.9C613.6 340.1 733.6 284.9 763.6 271.1L763.6 276.1C733.6 289.9 613.6 345.1 583.6 358.9Z" fill="#25858e" opacity="0.9"/>
<path d="M583.6 367.9C613.6 354.1 733.6 298.9 763.6 285.1L763.6 290.1C733.6 303.9 613.6 359.1 583.6 372.9Z" fill="#21918c" opacity="0.9"/>
<path d="M583.6 342.9C613.6 329.1 733.6 273.9 763.6 260.1L763.6 263.1C733.6 276.9 613.6 332.1 583.6 345.9Z" fill="#2c728e" opacity="0.9"/>
<path d="M650.0 353.9C680.0 340.1 800.0 284.9 830.0 271.1L830.0 276.1C800.0 289.9 680.0 345.1 650.0 358.9Z" fill="#25858e" opacity="0.9"/>
<path d="M660.0 368.4C690.0 354.6 810.0 299.4 840.0 285.6L840.0 289.6C810.0 303.4 690.0 358.6 660.0 372.4Z" fill="#21918c" opacity="0.9"/>
<path d="M680.0 334.4C710.0 320.6 830.0 265.4 860.0 251.6L860.0 255.6C830.0 269.4 710.0 324.6 680.0 338.4Z" fill="#2b748e" opacity="0.9"/>
<path d="M705.0 350.9C735.0 337.1 855.0 281.9 885.0 268.1L885.0 273.1C855.0 286.9 735.0 342.1 705.0 355.9Z" fill="#25858e" opacity="0.9"/>
<path d="M720.0 370.9C750.0 357.1 870.0 301.9 900.0 288.1L900.0 293.1C870.0 306.9 750.0 362.1 720.0 375.9Z" fill="#21918c" opacity="0.9"/>
</g>
<path d="M623.6 367.6 L693.3 329.6 L702.6 338.1 L654.5 370.6 L623.6 370.6Z" fill="#5ec962" />
<path d="M623.6 370.6 L623.6 360.0 L690.0 333.0 L698.0 338.0 L648.0 370.6Z" fill="#a5db36" />
<path d="M623.6 370.6 L623.6 366.0 L680.0 339.0 L688.0 344.0 L640.0 370.6Z" fill="#d8e219" />
<path d="M623.6 370.6 L623.6 369.0 L665.0 347.0 L672.0 352.0 L632.0 370.6Z" fill="#f6e620" />
<path d="M685.0 351.0 L703.4 338.1 L702.0 342.0 L690.0 350.0Z" fill="#3b2a78" />
<path d="M682.0 354.0 L703.0 339.0 L735.0 361.0 L752.0 370.6 L690.0 370.6Z" fill="#2f6b8e" />
<path d="M675.0 362.2C680.0 359.9 700.0 350.6 705.0 348.2L705.0 351.8C700.0 354.1 680.0 363.4 675.0 365.8Z" fill="#22a785" />
<path d="M744.4 363.7 L791.0 333.5 L804.8 342.0 L804.8 370.6 L753.7 370.6Z" fill="#6ccd5a" />
<path d="M752.0 370.6 L790.0 341.0 L804.8 348.0 L804.8 360.0 L772.0 370.6Z" fill="#c2df23" />
<path d="M760.0 370.6 L792.0 346.0 L804.8 352.0 L804.8 356.0 L770.0 370.6Z" fill="#f0e51d" />
<path d="M804.8 357.0 L804.8 370.6 L785.0 370.6Z" fill="#2db27d" />
<path d="M735.0 367.5C737.8 366.0 749.2 360.0 752.0 358.5L752.0 361.5C749.2 363.0 737.8 369.0 735.0 370.5Z" fill="#22a785" /></g>
<rect x="623.6" y="225.5" width="181.2" height="145.1" fill="none" stroke="#111" stroke-width="1.8"/>
<rect x="759.4" y="297.6" width="9.1" height="7.6" fill="none" stroke="#222" stroke-width="1"/>
<clipPath id="iclipA"><rect x="750.4" y="217.9" width="58.1" height="58.2"/></clipPath>
<g clip-path="url(#iclipA)"><rect x="750.4" y="217.9" width="58.1" height="58.2" fill="#482878"/><rect x="750.4" y="217.9" width="58.10000000000002" height="58.20000000000002" fill="#482576"/>
<path d="M770.0 268.0 L808.5 238.0 L808.5 257.6 L774.9 273.4Z" fill="#46337e" />
<path d="M750.4 240.5 L774.9 273.4 L808.5 257.6 L808.5 276.1 L750.4 276.1Z" fill="#2a778e" /></g>
<rect x="750.4" y="217.9" width="58.1" height="58.2" fill="none" stroke="#111" stroke-width="1.8"/>
<text x="716.40" y="213.40" font-size="13.3" text-anchor="middle" fill="#111" textLength="104.5" lengthAdjust="spacingAndGlyphs" >GROUND TRUTH</text>
<path d="M612.6 239.9H623.6" stroke="#111" stroke-width="1.8"/>
<text x="607.10" y="244.70" font-size="13.6" text-anchor="end" fill="#111" textLength="24.8" lengthAdjust="spacingAndGlyphs" >0.25</text>
<path d="M612.6 276.3H623.6" stroke="#111" stroke-width="1.8"/>
<text x="607.10" y="281.10" font-size="13.6" text-anchor="end" fill="#111" textLength="24.8" lengthAdjust="spacingAndGlyphs" >0.50</text>
<path d="M612.6 312.4H623.6" stroke="#111" stroke-width="1.8"/>
<text x="607.10" y="317.20" font-size="13.6" text-anchor="end" fill="#111" textLength="24.8" lengthAdjust="spacingAndGlyphs" >0.75</text>
<path d="M612.6 348.8H623.6" stroke="#111" stroke-width="1.8"/>
<text x="607.10" y="353.60" font-size="13.6" text-anchor="end" fill="#111" textLength="24.8" lengthAdjust="spacingAndGlyphs" >1.00</text>
<text transform="translate(572.4,295.2) rotate(-90)" font-size="12.6" text-anchor="middle" fill="#111" textLength="49" lengthAdjust="spacingAndGlyphs">TIME (s)</text>
<clipPath id="clipB"><rect x="910.9" y="224.8" width="181.7" height="145.2"/></clipPath>
<g clip-path="url(#clipB)"><rect x="910.9" y="224.8" width="181.7" height="145.2" fill="#fefcfd"/><g transform="translate(910.9,224.8)"><clipPath id="rc1"><rect x="0" y="30" width="182" height="120"/></clipPath><g clip-path="url(#rc1)">
<path d="M0.0 6.7C3.4 5.5 13.5 1.9 20.2 -0.7C26.9 -3.2 33.7 -5.9 40.4 -8.7C47.1 -11.5 53.9 -14.4 60.6 -17.4C67.3 -20.4 74.1 -23.6 80.8 -26.8C87.5 -30.0 94.3 -33.3 101.0 -36.8C107.7 -40.2 114.5 -43.8 121.2 -47.4C127.9 -51.1 134.7 -54.9 141.4 -58.8C148.1 -62.6 154.9 -66.6 161.6 -70.7C168.3 -74.8 178.4 -81.2 181.8 -83.3" fill="none" stroke="#5050e0" stroke-width="0.9" opacity="0.08"/>
<path d="M0.0 13.6C3.4 12.4 13.5 8.8 20.2 6.2C26.9 3.6 33.7 1.0 40.4 -1.8C47.1 -4.6 53.9 -7.5 60.6 -10.5C67.3 -13.5 74.1 -16.7 80.8 -19.9C87.5 -23.1 94.3 -26.5 101.0 -29.9C107.7 -33.3 114.5 -36.9 121.2 -40.6C127.9 -44.2 134.7 -48.0 141.4 -51.9C148.1 -55.8 154.9 -59.7 161.6 -63.8C168.3 -67.9 178.4 -74.4 181.8 -76.5" fill="none" stroke="#e05050" stroke-width="0.9" opacity="0.22"/>
<path d="M0.0 20.7C3.4 19.5 13.5 15.9 20.2 13.3C26.9 10.8 33.7 8.1 40.4 5.3C47.1 2.5 53.9 -0.4 60.6 -3.4C67.3 -6.4 74.1 -9.5 80.8 -12.8C87.5 -16.0 94.3 -19.3 101.0 -22.8C107.7 -26.2 114.5 -29.8 121.2 -33.4C127.9 -37.1 134.7 -40.9 141.4 -44.8C148.1 -48.6 154.9 -52.6 161.6 -56.7C168.3 -60.8 178.4 -67.2 181.8 -69.3" fill="none" stroke="#e05050" stroke-width="0.9" opacity="0.12"/>
<path d="M0.0 26.4C3.4 25.2 13.5 21.6 20.2 19.0C26.9 16.5 33.7 13.8 40.4 11.0C47.1 8.2 53.9 5.3 60.6 2.3C67.3 -0.7 74.1 -3.9 80.8 -7.1C87.5 -10.3 94.3 -13.6 101.0 -17.1C107.7 -20.5 114.5 -24.1 121.2 -27.7C127.9 -31.4 134.7 -35.2 141.4 -39.1C148.1 -42.9 154.9 -46.9 161.6 -51.0C168.3 -55.1 178.4 -61.5 181.8 -63.6" fill="none" stroke="#e05050" stroke-width="0.9" opacity="0.22"/>
<path d="M0.0 33.8C3.4 32.6 13.5 29.0 20.2 26.4C26.9 23.9 33.7 21.2 40.4 18.4C47.1 15.6 53.9 12.7 60.6 9.7C67.3 6.7 74.1 3.6 80.8 0.3C87.5 -2.9 94.3 -6.2 101.0 -9.7C107.7 -13.1 114.5 -16.7 121.2 -20.3C127.9 -24.0 134.7 -27.8 141.4 -31.6C148.1 -35.5 154.9 -39.5 161.6 -43.6C168.3 -47.7 178.4 -54.1 181.8 -56.2" fill="none" stroke="#5050e0" stroke-width="0.9" opacity="0.08"/>
<path d="M0.0 41.1C3.4 39.8 13.5 36.2 20.2 33.7C26.9 31.1 33.7 28.4 40.4 25.6C47.1 22.8 53.9 19.9 60.6 16.9C67.3 13.9 74.1 10.8 80.8 7.6C87.5 4.3 94.3 1.0 101.0 -2.4C107.7 -5.9 114.5 -9.4 121.2 -13.1C127.9 -16.8 134.7 -20.5 141.4 -24.4C148.1 -28.3 154.9 -32.3 161.6 -36.4C168.3 -40.5 178.4 -46.9 181.8 -49.0" fill="none" stroke="#e05050" stroke-width="0.9" opacity="0.12"/>
<path d="M0.0 47.4C3.4 46.2 13.5 42.6 20.2 40.0C26.9 37.4 33.7 34.8 40.4 32.0C47.1 29.2 53.9 26.3 60.6 23.3C67.3 20.3 74.1 17.1 80.8 13.9C87.5 10.7 94.3 7.4 101.0 3.9C107.7 0.5 114.5 -3.1 121.2 -6.8C127.9 -10.4 134.7 -14.2 141.4 -18.1C148.1 -21.9 154.9 -25.9 161.6 -30.0C168.3 -34.1 178.4 -40.5 181.8 -42.7" fill="none" stroke="#e05050" stroke-width="0.9" opacity="0.16"/>
<path d="M0.0 52.7C3.4 51.4 13.5 47.9 20.2 45.3C26.9 42.7 33.7 40.0 40.4 37.2C47.1 34.4 53.9 31.5 60.6 28.5C67.3 25.5 74.1 22.4 80.8 19.2C87.5 15.9 94.3 12.6 101.0 9.2C107.7 5.7 114.5 2.2 121.2 -1.5C127.9 -5.2 134.7 -8.9 141.4 -12.8C148.1 -16.7 154.9 -20.7 161.6 -24.8C168.3 -28.9 178.4 -35.3 181.8 -37.4" fill="none" stroke="#e05050" stroke-width="0.9" opacity="0.3"/>
<path d="M0.0 59.2C3.4 58.0 13.5 54.4 20.2 51.8C26.9 49.3 33.7 46.6 40.4 43.8C47.1 41.0 53.9 38.1 60.6 35.1C67.3 32.1 74.1 28.9 80.8 25.7C87.5 22.5 94.3 19.2 101.0 15.7C107.7 12.3 114.5 8.7 121.2 5.1C127.9 1.4 134.7 -2.4 141.4 -6.3C148.1 -10.1 154.9 -14.1 161.6 -18.2C168.3 -22.3 178.4 -28.7 181.8 -30.8" fill="none" stroke="#5050e0" stroke-width="0.9" opacity="0.35"/>
<path d="M0.0 66.3C3.4 65.1 13.5 61.5 20.2 58.9C26.9 56.3 33.7 53.7 40.4 50.9C47.1 48.1 53.9 45.2 60.6 42.2C67.3 39.2 74.1 36.0 80.8 32.8C87.5 29.6 94.3 26.3 101.0 22.8C107.7 19.4 114.5 15.8 121.2 12.1C127.9 8.5 134.7 4.7 141.4 0.8C148.1 -3.0 154.9 -7.0 161.6 -11.1C168.3 -15.2 178.4 -21.6 181.8 -23.8" fill="none" stroke="#e05050" stroke-width="0.9" opacity="0.08"/>
<path d="M0.0 73.7C3.4 72.4 13.5 68.8 20.2 66.3C26.9 63.7 33.7 61.0 40.4 58.2C47.1 55.4 53.9 52.5 60.6 49.5C67.3 46.5 74.1 43.4 80.8 40.2C87.5 36.9 94.3 33.6 101.0 30.2C107.7 26.7 114.5 23.2 121.2 19.5C127.9 15.8 134.7 12.1 141.4 8.2C148.1 4.3 154.9 0.3 161.6 -3.8C168.3 -7.9 178.4 -14.3 181.8 -16.4" fill="none" stroke="#5050e0" stroke-width="0.9" opacity="0.22"/>
<path d="M0.0 80.3C3.4 79.1 13.5 75.5 20.2 72.9C26.9 70.4 33.7 67.7 40.4 64.9C47.1 62.1 53.9 59.2 60.6 56.2C67.3 53.2 74.1 50.1 80.8 46.8C87.5 43.6 94.3 40.3 101.0 36.8C107.7 33.4 114.5 29.8 121.2 26.2C127.9 22.5 134.7 18.7 141.4 14.8C148.1 11.0 154.9 7.0 161.6 2.9C168.3 -1.2 178.4 -7.6 181.8 -9.7" fill="none" stroke="#e05050" stroke-width="0.9" opacity="0.35"/>
<path d="M0.0 86.1C3.4 84.9 13.5 81.3 20.2 78.7C26.9 76.2 33.7 73.5 40.4 70.7C47.1 67.9 53.9 65.0 60.6 62.0C67.3 59.0 74.1 55.8 80.8 52.6C87.5 49.4 94.3 46.1 101.0 42.6C107.7 39.2 114.5 35.6 121.2 32.0C127.9 28.3 134.7 24.5 141.4 20.6C148.1 16.8 154.9 12.8 161.6 8.7C168.3 4.6 178.4 -1.8 181.8 -3.9" fill="none" stroke="#e05050" stroke-width="0.9" opacity="0.16"/>
<path d="M0.0 94.4C3.4 93.2 13.5 89.6 20.2 87.0C26.9 84.5 33.7 81.8 40.4 79.0C47.1 76.2 53.9 73.3 60.6 70.3C67.3 67.3 74.1 64.1 80.8 60.9C87.5 57.7 94.3 54.4 101.0 50.9C107.7 47.5 114.5 43.9 121.2 40.3C127.9 36.6 134.7 32.8 141.4 28.9C148.1 25.1 154.9 21.1 161.6 17.0C168.3 12.9 178.4 6.5 181.8 4.4" fill="none" stroke="#e05050" stroke-width="0.9" opacity="0.3"/>
<path d="M0.0 101.0C3.4 99.8 13.5 96.2 20.2 93.6C26.9 91.0 33.7 88.4 40.4 85.6C47.1 82.8 53.9 79.9 60.6 76.9C67.3 73.9 74.1 70.7 80.8 67.5C87.5 64.3 94.3 60.9 101.0 57.5C107.7 54.1 114.5 50.5 121.2 46.8C127.9 43.2 134.7 39.4 141.4 35.5C148.1 31.6 154.9 27.7 161.6 23.6C168.3 19.5 178.4 13.0 181.8 10.9" fill="none" stroke="#e05050" stroke-width="0.9" opacity="0.35"/>
<path d="M0.0 107.8C3.4 106.5 13.5 103.0 20.2 100.4C26.9 97.8 33.7 95.1 40.4 92.3C47.1 89.5 53.9 86.6 60.6 83.6C67.3 80.6 74.1 77.5 80.8 74.3C87.5 71.1 94.3 67.7 101.0 64.3C107.7 60.8 114.5 57.3 121.2 53.6C127.9 49.9 134.7 46.2 141.4 42.3C148.1 38.4 154.9 34.4 161.6 30.3C168.3 26.2 178.4 19.8 181.8 17.7" fill="none" stroke="#5050e0" stroke-width="0.9" opacity="0.08"/>
<path d="M0.0 113.8C3.4 112.6 13.5 109.0 20.2 106.4C26.9 103.8 33.7 101.1 40.4 98.3C47.1 95.5 53.9 92.6 60.6 89.6C67.3 86.6 74.1 83.5 80.8 80.3C87.5 77.1 94.3 73.7 101.0 70.3C107.7 66.8 114.5 63.3 121.2 59.6C127.9 55.9 134.7 52.2 141.4 48.3C148.1 44.4 154.9 40.4 161.6 36.3C168.3 32.2 178.4 25.8 181.8 23.7" fill="none" stroke="#5050e0" stroke-width="0.9" opacity="0.35"/>
<path d="M0.0 119.8C3.4 118.6 13.5 115.0 20.2 112.4C26.9 109.8 33.7 107.1 40.4 104.4C47.1 101.6 53.9 98.7 60.6 95.7C67.3 92.6 74.1 89.5 80.8 86.3C87.5 83.1 94.3 79.7 101.0 76.3C107.7 72.8 114.5 69.3 121.2 65.6C127.9 62.0 134.7 58.2 141.4 54.3C148.1 50.4 154.9 46.4 161.6 42.4C168.3 38.3 178.4 31.8 181.8 29.7" fill="none" stroke="#5050e0" stroke-width="0.9" opacity="0.3"/>
<path d="M0.0 127.2C3.4 126.0 13.5 122.4 20.2 119.8C26.9 117.2 33.7 114.5 40.4 111.7C47.1 109.0 53.9 106.1 60.6 103.0C67.3 100.0 74.1 96.9 80.8 93.7C87.5 90.5 94.3 87.1 101.0 83.7C107.7 80.2 114.5 76.7 121.2 73.0C127.9 69.4 134.7 65.6 141.4 61.7C148.1 57.8 154.9 53.8 161.6 49.7C168.3 45.6 178.4 39.2 181.8 37.1" fill="none" stroke="#5050e0" stroke-width="0.9" opacity="0.16"/>
<path d="M0.0 132.5C3.4 131.2 13.5 127.7 20.2 125.1C26.9 122.5 33.7 119.8 40.4 117.0C47.1 114.2 53.9 111.3 60.6 108.3C67.3 105.3 74.1 102.2 80.8 99.0C87.5 95.8 94.3 92.4 101.0 89.0C107.7 85.5 114.5 82.0 121.2 78.3C127.9 74.6 134.7 70.9 141.4 67.0C148.1 63.1 154.9 59.1 161.6 55.0C168.3 50.9 178.4 44.5 181.8 42.4" fill="none" stroke="#5050e0" stroke-width="0.9" opacity="0.22"/>
<path d="M0.0 140.4C3.4 139.2 13.5 135.6 20.2 133.0C26.9 130.5 33.7 127.8 40.4 125.0C47.1 122.2 53.9 119.3 60.6 116.3C67.3 113.3 74.1 110.2 80.8 106.9C87.5 103.7 94.3 100.4 101.0 96.9C107.7 93.5 114.5 89.9 121.2 86.3C127.9 82.6 134.7 78.8 141.4 74.9C148.1 71.1 154.9 67.1 161.6 63.0C168.3 58.9 178.4 52.5 181.8 50.4" fill="none" stroke="#e05050" stroke-width="0.9" opacity="0.3"/>
<path d="M0.0 147.0C3.4 145.8 13.5 142.2 20.2 139.7C26.9 137.1 33.7 134.4 40.4 131.6C47.1 128.8 53.9 125.9 60.6 122.9C67.3 119.9 74.1 116.8 80.8 113.5C87.5 110.3 94.3 107.0 101.0 103.5C107.7 100.1 114.5 96.5 121.2 92.9C127.9 89.2 134.7 85.4 141.4 81.6C148.1 77.7 154.9 73.7 161.6 69.6C168.3 65.5 178.4 59.1 181.8 57.0" fill="none" stroke="#e05050" stroke-width="0.9" opacity="0.35"/>
<path d="M0.0 153.5C3.4 152.3 13.5 148.7 20.2 146.1C26.9 143.5 33.7 140.9 40.4 138.1C47.1 135.3 53.9 132.4 60.6 129.4C67.3 126.4 74.1 123.2 80.8 120.0C87.5 116.8 94.3 113.4 101.0 110.0C107.7 106.6 114.5 103.0 121.2 99.3C127.9 95.7 134.7 91.9 141.4 88.0C148.1 84.1 154.9 80.2 161.6 76.1C168.3 72.0 178.4 65.5 181.8 63.4" fill="none" stroke="#e05050" stroke-width="0.9" opacity="0.12"/>
<path d="M0.0 159.1C3.4 157.8 13.5 154.3 20.2 151.7C26.9 149.1 33.7 146.4 40.4 143.6C47.1 140.8 53.9 137.9 60.6 134.9C67.3 131.9 74.1 128.8 80.8 125.6C87.5 122.4 94.3 119.0 101.0 115.6C107.7 112.1 114.5 108.6 121.2 104.9C127.9 101.2 134.7 97.5 141.4 93.6C148.1 89.7 154.9 85.7 161.6 81.6C168.3 77.5 178.4 71.1 181.8 69.0" fill="none" stroke="#5050e0" stroke-width="0.9" opacity="0.35"/>
<path d="M0.0 166.6C3.4 165.3 13.5 161.7 20.2 159.2C26.9 156.6 33.7 153.9 40.4 151.1C47.1 148.3 53.9 145.4 60.6 142.4C67.3 139.4 74.1 136.3 80.8 133.1C87.5 129.8 94.3 126.5 101.0 123.1C107.7 119.6 114.5 116.1 121.2 112.4C127.9 108.7 134.7 105.0 141.4 101.1C148.1 97.2 154.9 93.2 161.6 89.1C168.3 85.0 178.4 78.6 181.8 76.5" fill="none" stroke="#e05050" stroke-width="0.9" opacity="0.35"/>
<path d="M0.0 172.6C3.4 171.4 13.5 167.8 20.2 165.2C26.9 162.6 33.7 160.0 40.4 157.2C47.1 154.4 53.9 151.5 60.6 148.5C67.3 145.5 74.1 142.3 80.8 139.1C87.5 135.9 94.3 132.6 101.0 129.1C107.7 125.7 114.5 122.1 121.2 118.4C127.9 114.8 134.7 111.0 141.4 107.1C148.1 103.3 154.9 99.3 161.6 95.2C168.3 91.1 178.4 84.7 181.8 82.5" fill="none" stroke="#5050e0" stroke-width="0.9" opacity="0.3"/>
<path d="M0.0 180.0C3.4 178.8 13.5 175.2 20.2 172.6C26.9 170.0 33.7 167.4 40.4 164.6C47.1 161.8 53.9 158.9 60.6 155.9C67.3 152.9 74.1 149.7 80.8 146.5C87.5 143.3 94.3 139.9 101.0 136.5C107.7 133.1 114.5 129.5 121.2 125.8C127.9 122.2 134.7 118.4 141.4 114.5C148.1 110.7 154.9 106.7 161.6 102.6C168.3 98.5 178.4 92.0 181.8 89.9" fill="none" stroke="#e05050" stroke-width="0.9" opacity="0.35"/>
<path d="M0.0 184.7C3.4 183.4 13.5 179.8 20.2 177.3C26.9 174.7 33.7 172.0 40.4 169.2C47.1 166.4 53.9 163.5 60.6 160.5C67.3 157.5 74.1 154.4 80.8 151.2C87.5 147.9 94.3 144.6 101.0 141.2C107.7 137.7 114.5 134.2 121.2 130.5C127.9 126.8 134.7 123.1 141.4 119.2C148.1 115.3 154.9 111.3 161.6 107.2C168.3 103.1 178.4 96.7 181.8 94.6" fill="none" stroke="#e05050" stroke-width="0.9" opacity="0.35"/>
<path d="M0.0 193.2C3.4 192.0 13.5 188.4 20.2 185.8C26.9 183.3 33.7 180.6 40.4 177.8C47.1 175.0 53.9 172.1 60.6 169.1C67.3 166.1 74.1 163.0 80.8 159.7C87.5 156.5 94.3 153.2 101.0 149.7C107.7 146.3 114.5 142.7 121.2 139.1C127.9 135.4 134.7 131.6 141.4 127.8C148.1 123.9 154.9 119.9 161.6 115.8C168.3 111.7 178.4 105.3 181.8 103.2" fill="none" stroke="#5050e0" stroke-width="0.9" opacity="0.3"/>
<path d="M0.0 198.7C3.4 197.5 13.5 193.9 20.2 191.3C26.9 188.8 33.7 186.1 40.4 183.3C47.1 180.5 53.9 177.6 60.6 174.6C67.3 171.6 74.1 168.5 80.8 165.2C87.5 162.0 94.3 158.7 101.0 155.2C107.7 151.8 114.5 148.2 121.2 144.6C127.9 140.9 134.7 137.1 141.4 133.3C148.1 129.4 154.9 125.4 161.6 121.3C168.3 117.2 178.4 110.8 181.8 108.7" fill="none" stroke="#e05050" stroke-width="0.9" opacity="0.3"/>
<path d="M0.0 204.9C3.4 203.7 13.5 200.1 20.2 197.5C26.9 195.0 33.7 192.3 40.4 189.5C47.1 186.7 53.9 183.8 60.6 180.8C67.3 177.8 74.1 174.7 80.8 171.4C87.5 168.2 94.3 164.9 101.0 161.4C107.7 158.0 114.5 154.4 121.2 150.8C127.9 147.1 134.7 143.3 141.4 139.5C148.1 135.6 154.9 131.6 161.6 127.5C168.3 123.4 178.4 117.0 181.8 114.9" fill="none" stroke="#e05050" stroke-width="0.9" opacity="0.12"/>
<path d="M0.0 212.3C3.4 211.1 13.5 207.5 20.2 204.9C26.9 202.3 33.7 199.6 40.4 196.8C47.1 194.1 53.9 191.2 60.6 188.1C67.3 185.1 74.1 182.0 80.8 178.8C87.5 175.6 94.3 172.2 101.0 168.8C107.7 165.3 114.5 161.8 121.2 158.1C127.9 154.5 134.7 150.7 141.4 146.8C148.1 142.9 154.9 138.9 161.6 134.8C168.3 130.7 178.4 124.3 181.8 122.2" fill="none" stroke="#5050e0" stroke-width="0.9" opacity="0.12"/>
<path d="M0.0 218.6C3.4 217.3 13.5 213.7 20.2 211.2C26.9 208.6 33.7 205.9 40.4 203.1C47.1 200.3 53.9 197.4 60.6 194.4C67.3 191.4 74.1 188.3 80.8 185.1C87.5 181.8 94.3 178.5 101.0 175.1C107.7 171.6 114.5 168.1 121.2 164.4C127.9 160.7 134.7 157.0 141.4 153.1C148.1 149.2 154.9 145.2 161.6 141.1C168.3 137.0 178.4 130.6 181.8 128.5" fill="none" stroke="#e05050" stroke-width="0.9" opacity="0.3"/>
<path d="M0.0 225.0C3.4 223.8 13.5 220.2 20.2 217.7C26.9 215.1 33.7 212.4 40.4 209.6C47.1 206.8 53.9 203.9 60.6 200.9C67.3 197.9 74.1 194.8 80.8 191.5C87.5 188.3 94.3 185.0 101.0 181.5C107.7 178.1 114.5 174.5 121.2 170.9C127.9 167.2 134.7 163.4 141.4 159.6C148.1 155.7 154.9 151.7 161.6 147.6C168.3 143.5 178.4 137.1 181.8 135.0" fill="none" stroke="#5050e0" stroke-width="0.9" opacity="0.35"/>
<path d="M0.0 232.1C3.4 230.9 13.5 227.3 20.2 224.7C26.9 222.1 33.7 219.5 40.4 216.7C47.1 213.9 53.9 211.0 60.6 208.0C67.3 205.0 74.1 201.8 80.8 198.6C87.5 195.4 94.3 192.0 101.0 188.6C107.7 185.2 114.5 181.6 121.2 177.9C127.9 174.3 134.7 170.5 141.4 166.6C148.1 162.8 154.9 158.8 161.6 154.7C168.3 150.6 178.4 144.1 181.8 142.0" fill="none" stroke="#5050e0" stroke-width="0.9" opacity="0.08"/>
<path d="M0.0 238.3C3.4 237.1 13.5 233.5 20.2 230.9C26.9 228.4 33.7 225.7 40.4 222.9C47.1 220.1 53.9 217.2 60.6 214.2C67.3 211.2 74.1 208.0 80.8 204.8C87.5 201.6 94.3 198.3 101.0 194.8C107.7 191.4 114.5 187.8 121.2 184.1C127.9 180.5 134.7 176.7 141.4 172.8C148.1 169.0 154.9 165.0 161.6 160.9C168.3 156.8 178.4 150.4 181.8 148.2" fill="none" stroke="#5050e0" stroke-width="0.9" opacity="0.35"/>
<path d="M0.0 245.2C3.4 244.0 13.5 240.4 20.2 237.8C26.9 235.3 33.7 232.6 40.4 229.8C47.1 227.0 53.9 224.1 60.6 221.1C67.3 218.1 74.1 215.0 80.8 211.7C87.5 208.5 94.3 205.2 101.0 201.7C107.7 198.3 114.5 194.7 121.2 191.1C127.9 187.4 134.7 183.6 141.4 179.7C148.1 175.9 154.9 171.9 161.6 167.8C168.3 163.7 178.4 157.3 181.8 155.2" fill="none" stroke="#e05050" stroke-width="0.9" opacity="0.3"/>
<path d="M0.0 251.1C3.4 249.9 13.5 246.3 20.2 243.7C26.9 241.1 33.7 238.4 40.4 235.6C47.1 232.9 53.9 230.0 60.6 226.9C67.3 223.9 74.1 220.8 80.8 217.6C87.5 214.4 94.3 211.0 101.0 207.6C107.7 204.1 114.5 200.6 121.2 196.9C127.9 193.3 134.7 189.5 141.4 185.6C148.1 181.7 154.9 177.7 161.6 173.6C168.3 169.5 178.4 163.1 181.8 161.0" fill="none" stroke="#5050e0" stroke-width="0.9" opacity="0.22"/>
</g>
<path d="M0 22.8H182" stroke="#e2b0b0" stroke-width="1.8"/>
<path d="M2 29.6H20M30 29.6H60M70 29.6H100M110 29.6H140" stroke="#d4d4f4" stroke-width="1" opacity="0.8"/>
<path d="M91.8 30.0 L100.7 36.0 L115.5 53.7 L129.0 65.5" fill="none" stroke="#8a8ad0" stroke-width="1" opacity="0.45"/>
<path d="M6.0 53.0 L28.0 73.6" fill="none" stroke="#a090d0" stroke-width="1" opacity="0.45"/>
<path d="M147.5 88.5 L156.9 95.6 L181.0 92.2" fill="none" stroke="#d08080" stroke-width="1" opacity="0.6"/>
<path d="M1.5 91.4 L29.7 75.1 L64.4 98.8 L122.1 59.6 L129.0 65.0" fill="none" stroke="#c86868" stroke-width="1.2" />
<path d="M129.0 65.0 L135.0 71.0" fill="none" stroke="#d09090" stroke-width="1" />
<path d="M150.0 78.0C152.5 76.7 159.8 73.0 165.0 70.0C170.2 67.0 178.8 61.7 181.5 60.0" fill="none" stroke="#d07070" stroke-width="1.1" opacity="0.8"/>
<path d="M1.0 141.0C5.0 139.3 16.8 134.8 25.0 131.0C33.2 127.2 42.6 122.5 50.0 118.0C57.4 113.5 66.0 106.5 69.2 104.2" fill="none" stroke="#d06868" stroke-width="1.2" />
<path d="M69.2 104.2C71.8 106.4 79.7 113.7 84.8 117.5C89.9 121.3 95.0 124.1 100.0 127.0C105.0 129.9 109.0 131.8 114.6 134.7C120.2 137.6 130.3 142.6 133.4 144.2" fill="none" stroke="#a0a0d8" stroke-width="1.2" />
<path d="M120.0 137.5 L133.4 144.2" fill="none" stroke="#5a5ab8" stroke-width="1.5" />
<path d="M30.0 144.2C34.2 141.8 46.6 135.2 55.0 130.0C63.4 124.8 75.9 115.7 80.1 112.8" fill="none" stroke="#5858b8" stroke-width="1.2" />
<path d="M62.9 125.3 L79.3 113.6 L88.0 119.8 L77.8 128.5 L69.1 127.7" fill="none" stroke="#b04848" stroke-width="1.2" />
<path d="M119.3 137.9C123.6 135.2 136.9 127.1 145.0 122.0C153.1 116.9 164.1 109.8 167.9 107.3" fill="none" stroke="#d06868" stroke-width="1.2" />
<path d="M167.9 107.3 L178.8 115.9" fill="none" stroke="#d07070" stroke-width="1.1" />
<path d="M147.5 144.2C150.4 142.2 159.5 135.7 165.0 132.0C170.5 128.3 177.8 123.8 180.4 122.2" fill="none" stroke="#5858b8" stroke-width="1.2" />
<path d="M1.0 117.0C5.8 114.8 20.7 108.2 30.0 104.0C39.3 99.8 52.5 94.0 57.0 92.0" fill="none" stroke="#d07070" stroke-width="1.1" opacity="0.7"/>
<path d="M10.0 88.0C12.5 86.7 22.5 81.3 25.0 80.0" fill="none" stroke="#8080d0" stroke-width="1.5" opacity="0.5"/></g></g>
<rect x="910.9" y="224.8" width="181.7" height="145.2" fill="none" stroke="#111" stroke-width="1.8"/>
<rect x="1046.7" y="297.5" width="9.7" height="7.0" fill="none" stroke="#222" stroke-width="1"/>
<clipPath id="iclipB"><rect x="1035.5" y="219.6" width="58.6" height="58.5"/></clipPath>
<g clip-path="url(#iclipB)"><rect x="1035.5" y="219.6" width="58.6" height="58.5" fill="#fefcfd"/><g transform="translate(1035.5,219.6)"><path d="M0.0 10.1 L14.1 0.0" fill="none" stroke="#4848b0" stroke-width="1.3" />
<path d="M0.0 21.3 L15.4 41.7 L58.6 18.7" fill="none" stroke="#a02828" stroke-width="1.3" stroke-dasharray="2.2 0.5"/>
<path d="M15.4 41.7 L24.0 55.5 L58.6 38.4" fill="none" stroke="#a02828" stroke-width="1.3" stroke-dasharray="2.2 0.5"/></g></g>
<rect x="1035.5" y="219.6" width="58.6" height="58.5" fill="none" stroke="#111" stroke-width="1.8"/>
<text x="1002.50" y="213.40" font-size="13.3" text-anchor="middle" fill="#111" textLength="104.5" lengthAdjust="spacingAndGlyphs" >GROUND TRUTH</text>
<clipPath id="clipC"><rect x="623.6" y="405.2" width="181.7" height="145.4"/></clipPath>
<g clip-path="url(#clipC)"><rect x="623.6" y="405.2" width="181.7" height="145.4" fill="#fefcfd"/><g transform="translate(623.6,405.2)"><clipPath id="rc2"><rect x="0" y="30" width="182" height="120"/></clipPath><g clip-path="url(#rc2)">
<path d="M0.0 8.7C3.4 7.5 13.5 3.9 20.2 1.3C26.9 -1.3 33.7 -4.0 40.4 -6.8C47.1 -9.5 53.9 -12.4 60.6 -15.5C67.3 -18.5 74.1 -21.6 80.8 -24.8C87.5 -28.0 94.3 -31.4 101.0 -34.8C107.7 -38.3 114.5 -41.8 121.2 -45.5C127.9 -49.1 134.7 -52.9 141.4 -56.8C148.1 -60.7 154.9 -64.7 161.6 -68.8C168.3 -72.9 178.4 -79.3 181.8 -81.4" fill="none" stroke="#5050e0" stroke-width="0.9" opacity="0.08"/>
<path d="M0.0 13.2C3.4 12.0 13.5 8.4 20.2 5.8C26.9 3.2 33.7 0.6 40.4 -2.2C47.1 -5.0 53.9 -7.9 60.6 -10.9C67.3 -13.9 74.1 -17.1 80.8 -20.3C87.5 -23.5 94.3 -26.8 101.0 -30.3C107.7 -33.7 114.5 -37.3 121.2 -41.0C127.9 -44.6 134.7 -48.4 141.4 -52.3C148.1 -56.1 154.9 -60.1 161.6 -64.2C168.3 -68.3 178.4 -74.7 181.8 -76.9" fill="none" stroke="#e05050" stroke-width="0.9" opacity="0.12"/>
<path d="M0.0 21.4C3.4 20.1 13.5 16.5 20.2 14.0C26.9 11.4 33.7 8.7 40.4 5.9C47.1 3.1 53.9 0.2 60.6 -2.8C67.3 -5.8 74.1 -8.9 80.8 -12.1C87.5 -15.4 94.3 -18.7 101.0 -22.1C107.7 -25.6 114.5 -29.1 121.2 -32.8C127.9 -36.5 134.7 -40.2 141.4 -44.1C148.1 -48.0 154.9 -52.0 161.6 -56.1C168.3 -60.2 178.4 -66.6 181.8 -68.7" fill="none" stroke="#5050e0" stroke-width="0.9" opacity="0.16"/>
<path d="M0.0 26.8C3.4 25.6 13.5 22.0 20.2 19.4C26.9 16.8 33.7 14.1 40.4 11.4C47.1 8.6 53.9 5.7 60.6 2.7C67.3 -0.4 74.1 -3.5 80.8 -6.7C87.5 -9.9 94.3 -13.3 101.0 -16.7C107.7 -20.2 114.5 -23.7 121.2 -27.4C127.9 -31.0 134.7 -34.8 141.4 -38.7C148.1 -42.6 154.9 -46.6 161.6 -50.6C168.3 -54.7 178.4 -61.2 181.8 -63.3" fill="none" stroke="#e05050" stroke-width="0.9" opacity="0.08"/>
<path d="M0.0 34.2C3.4 33.0 13.5 29.4 20.2 26.8C26.9 24.2 33.7 21.5 40.4 18.7C47.1 16.0 53.9 13.1 60.6 10.0C67.3 7.0 74.1 3.9 80.8 0.7C87.5 -2.5 94.3 -5.9 101.0 -9.3C107.7 -12.8 114.5 -16.3 121.2 -20.0C127.9 -23.6 134.7 -27.4 141.4 -31.3C148.1 -35.2 154.9 -39.2 161.6 -43.3C168.3 -47.4 178.4 -53.8 181.8 -55.9" fill="none" stroke="#e05050" stroke-width="0.9" opacity="0.22"/>
<path d="M0.0 40.9C3.4 39.7 13.5 36.1 20.2 33.5C26.9 31.0 33.7 28.3 40.4 25.5C47.1 22.7 53.9 19.8 60.6 16.8C67.3 13.8 74.1 10.7 80.8 7.4C87.5 4.2 94.3 0.9 101.0 -2.6C107.7 -6.0 114.5 -9.6 121.2 -13.2C127.9 -16.9 134.7 -20.7 141.4 -24.6C148.1 -28.4 154.9 -32.4 161.6 -36.5C168.3 -40.6 178.4 -47.0 181.8 -49.1" fill="none" stroke="#5050e0" stroke-width="0.9" opacity="0.3"/>
<path d="M0.0 48.3C3.4 47.0 13.5 43.5 20.2 40.9C26.9 38.3 33.7 35.6 40.4 32.8C47.1 30.0 53.9 27.1 60.6 24.1C67.3 21.1 74.1 18.0 80.8 14.8C87.5 11.5 94.3 8.2 101.0 4.8C107.7 1.3 114.5 -2.2 121.2 -5.9C127.9 -9.6 134.7 -13.3 141.4 -17.2C148.1 -21.1 154.9 -25.1 161.6 -29.2C168.3 -33.3 178.4 -39.7 181.8 -41.8" fill="none" stroke="#e05050" stroke-width="0.9" opacity="0.22"/>
<path d="M0.0 53.8C3.4 52.6 13.5 49.0 20.2 46.4C26.9 43.8 33.7 41.2 40.4 38.4C47.1 35.6 53.9 32.7 60.6 29.7C67.3 26.6 74.1 23.5 80.8 20.3C87.5 17.1 94.3 13.7 101.0 10.3C107.7 6.8 114.5 3.3 121.2 -0.4C127.9 -4.0 134.7 -7.8 141.4 -11.7C148.1 -15.6 154.9 -19.5 161.6 -23.6C168.3 -27.7 178.4 -34.2 181.8 -36.3" fill="none" stroke="#5050e0" stroke-width="0.9" opacity="0.08"/>
<path d="M0.0 60.1C3.4 58.8 13.5 55.3 20.2 52.7C26.9 50.1 33.7 47.4 40.4 44.6C47.1 41.8 53.9 38.9 60.6 35.9C67.3 32.9 74.1 29.8 80.8 26.6C87.5 23.3 94.3 20.0 101.0 16.6C107.7 13.1 114.5 9.6 121.2 5.9C127.9 2.2 134.7 -1.5 141.4 -5.4C148.1 -9.3 154.9 -13.3 161.6 -17.4C168.3 -21.5 178.4 -27.9 181.8 -30.0" fill="none" stroke="#5050e0" stroke-width="0.9" opacity="0.22"/>
<path d="M0.0 66.8C3.4 65.6 13.5 62.0 20.2 59.4C26.9 56.8 33.7 54.2 40.4 51.4C47.1 48.6 53.9 45.7 60.6 42.7C67.3 39.7 74.1 36.5 80.8 33.3C87.5 30.1 94.3 26.8 101.0 23.3C107.7 19.9 114.5 16.3 121.2 12.6C127.9 9.0 134.7 5.2 141.4 1.3C148.1 -2.5 154.9 -6.5 161.6 -10.6C168.3 -14.7 178.4 -21.2 181.8 -23.3" fill="none" stroke="#5050e0" stroke-width="0.9" opacity="0.12"/>
<path d="M0.0 73.7C3.4 72.5 13.5 68.9 20.2 66.3C26.9 63.8 33.7 61.1 40.4 58.3C47.1 55.5 53.9 52.6 60.6 49.6C67.3 46.6 74.1 43.5 80.8 40.2C87.5 37.0 94.3 33.7 101.0 30.2C107.7 26.8 114.5 23.2 121.2 19.6C127.9 15.9 134.7 12.1 141.4 8.3C148.1 4.4 154.9 0.4 161.6 -3.7C168.3 -7.8 178.4 -14.2 181.8 -16.3" fill="none" stroke="#e05050" stroke-width="0.9" opacity="0.08"/>
<path d="M0.0 79.4C3.4 78.2 13.5 74.6 20.2 72.0C26.9 69.5 33.7 66.8 40.4 64.0C47.1 61.2 53.9 58.3 60.6 55.3C67.3 52.3 74.1 49.1 80.8 45.9C87.5 42.7 94.3 39.4 101.0 35.9C107.7 32.5 114.5 28.9 121.2 25.3C127.9 21.6 134.7 17.8 141.4 13.9C148.1 10.1 154.9 6.1 161.6 2.0C168.3 -2.1 178.4 -8.5 181.8 -10.6" fill="none" stroke="#e05050" stroke-width="0.9" opacity="0.3"/>
<path d="M0.0 86.8C3.4 85.6 13.5 82.0 20.2 79.4C26.9 76.9 33.7 74.2 40.4 71.4C47.1 68.6 53.9 65.7 60.6 62.7C67.3 59.7 74.1 56.5 80.8 53.3C87.5 50.1 94.3 46.8 101.0 43.3C107.7 39.9 114.5 36.3 121.2 32.7C127.9 29.0 134.7 25.2 141.4 21.3C148.1 17.5 154.9 13.5 161.6 9.4C168.3 5.3 178.4 -1.1 181.8 -3.2" fill="none" stroke="#5050e0" stroke-width="0.9" opacity="0.35"/>
<path d="M0.0 93.5C3.4 92.3 13.5 88.7 20.2 86.1C26.9 83.6 33.7 80.9 40.4 78.1C47.1 75.3 53.9 72.4 60.6 69.4C67.3 66.4 74.1 63.3 80.8 60.0C87.5 56.8 94.3 53.5 101.0 50.0C107.7 46.6 114.5 43.0 121.2 39.4C127.9 35.7 134.7 31.9 141.4 28.1C148.1 24.2 154.9 20.2 161.6 16.1C168.3 12.0 178.4 5.6 181.8 3.5" fill="none" stroke="#5050e0" stroke-width="0.9" opacity="0.22"/>
<path d="M0.0 100.7C3.4 99.5 13.5 95.9 20.2 93.3C26.9 90.7 33.7 88.1 40.4 85.3C47.1 82.5 53.9 79.6 60.6 76.6C67.3 73.6 74.1 70.4 80.8 67.2C87.5 64.0 94.3 60.6 101.0 57.2C107.7 53.8 114.5 50.2 121.2 46.5C127.9 42.9 134.7 39.1 141.4 35.2C148.1 31.3 154.9 27.4 161.6 23.3C168.3 19.2 178.4 12.7 181.8 10.6" fill="none" stroke="#5050e0" stroke-width="0.9" opacity="0.16"/>
<path d="M0.0 107.3C3.4 106.1 13.5 102.5 20.2 99.9C26.9 97.3 33.7 94.6 40.4 91.8C47.1 89.1 53.9 86.2 60.6 83.1C67.3 80.1 74.1 77.0 80.8 73.8C87.5 70.6 94.3 67.2 101.0 63.8C107.7 60.3 114.5 56.8 121.2 53.1C127.9 49.5 134.7 45.7 141.4 41.8C148.1 37.9 154.9 33.9 161.6 29.8C168.3 25.7 178.4 19.3 181.8 17.2" fill="none" stroke="#e05050" stroke-width="0.9" opacity="0.22"/>
<path d="M0.0 112.4C3.4 111.2 13.5 107.6 20.2 105.0C26.9 102.4 33.7 99.7 40.4 96.9C47.1 94.1 53.9 91.2 60.6 88.2C67.3 85.2 74.1 82.1 80.8 78.9C87.5 75.7 94.3 72.3 101.0 68.9C107.7 65.4 114.5 61.9 121.2 58.2C127.9 54.6 134.7 50.8 141.4 46.9C148.1 43.0 154.9 39.0 161.6 34.9C168.3 30.8 178.4 24.4 181.8 22.3" fill="none" stroke="#5050e0" stroke-width="0.9" opacity="0.35"/>
<path d="M0.0 120.4C3.4 119.1 13.5 115.6 20.2 113.0C26.9 110.4 33.7 107.7 40.4 104.9C47.1 102.1 53.9 99.2 60.6 96.2C67.3 93.2 74.1 90.1 80.8 86.9C87.5 83.6 94.3 80.3 101.0 76.9C107.7 73.4 114.5 69.9 121.2 66.2C127.9 62.5 134.7 58.8 141.4 54.9C148.1 51.0 154.9 47.0 161.6 42.9C168.3 38.8 178.4 32.4 181.8 30.3" fill="none" stroke="#5050e0" stroke-width="0.9" opacity="0.12"/>
<path d="M0.0 126.4C3.4 125.1 13.5 121.6 20.2 119.0C26.9 116.4 33.7 113.7 40.4 110.9C47.1 108.1 53.9 105.2 60.6 102.2C67.3 99.2 74.1 96.1 80.8 92.9C87.5 89.6 94.3 86.3 101.0 82.9C107.7 79.4 114.5 75.9 121.2 72.2C127.9 68.5 134.7 64.8 141.4 60.9C148.1 57.0 154.9 53.0 161.6 48.9C168.3 44.8 178.4 38.4 181.8 36.3" fill="none" stroke="#5050e0" stroke-width="0.9" opacity="0.3"/>
<path d="M0.0 133.0C3.4 131.8 13.5 128.2 20.2 125.6C26.9 123.1 33.7 120.4 40.4 117.6C47.1 114.8 53.9 111.9 60.6 108.9C67.3 105.9 74.1 102.8 80.8 99.5C87.5 96.3 94.3 93.0 101.0 89.5C107.7 86.1 114.5 82.5 121.2 78.9C127.9 75.2 134.7 71.4 141.4 67.6C148.1 63.7 154.9 59.7 161.6 55.6C168.3 51.5 178.4 45.1 181.8 43.0" fill="none" stroke="#5050e0" stroke-width="0.9" opacity="0.35"/>
<path d="M0.0 140.5C3.4 139.3 13.5 135.7 20.2 133.1C26.9 130.5 33.7 127.9 40.4 125.1C47.1 122.3 53.9 119.4 60.6 116.4C67.3 113.4 74.1 110.2 80.8 107.0C87.5 103.8 94.3 100.5 101.0 97.0C107.7 93.6 114.5 90.0 121.2 86.3C127.9 82.7 134.7 78.9 141.4 75.0C148.1 71.2 154.9 67.2 161.6 63.1C168.3 59.0 178.4 52.6 181.8 50.4" fill="none" stroke="#5050e0" stroke-width="0.9" opacity="0.22"/>
<path d="M0.0 145.8C3.4 144.6 13.5 141.0 20.2 138.4C26.9 135.9 33.7 133.2 40.4 130.4C47.1 127.6 53.9 124.7 60.6 121.7C67.3 118.7 74.1 115.6 80.8 112.3C87.5 109.1 94.3 105.8 101.0 102.3C107.7 98.9 114.5 95.3 121.2 91.7C127.9 88.0 134.7 84.2 141.4 80.4C148.1 76.5 154.9 72.5 161.6 68.4C168.3 64.3 178.4 57.9 181.8 55.8" fill="none" stroke="#5050e0" stroke-width="0.9" opacity="0.3"/>
<path d="M0.0 153.3C3.4 152.1 13.5 148.5 20.2 145.9C26.9 143.4 33.7 140.7 40.4 137.9C47.1 135.1 53.9 132.2 60.6 129.2C67.3 126.2 74.1 123.1 80.8 119.8C87.5 116.6 94.3 113.3 101.0 109.8C107.7 106.4 114.5 102.8 121.2 99.2C127.9 95.5 134.7 91.7 141.4 87.9C148.1 84.0 154.9 80.0 161.6 75.9C168.3 71.8 178.4 65.4 181.8 63.3" fill="none" stroke="#e05050" stroke-width="0.9" opacity="0.12"/>
<path d="M0.0 160.5C3.4 159.2 13.5 155.6 20.2 153.1C26.9 150.5 33.7 147.8 40.4 145.0C47.1 142.2 53.9 139.3 60.6 136.3C67.3 133.3 74.1 130.2 80.8 127.0C87.5 123.7 94.3 120.4 101.0 116.9C107.7 113.5 114.5 109.9 121.2 106.3C127.9 102.6 134.7 98.9 141.4 95.0C148.1 91.1 154.9 87.1 161.6 83.0C168.3 78.9 178.4 72.5 181.8 70.4" fill="none" stroke="#5050e0" stroke-width="0.9" opacity="0.12"/>
<path d="M0.0 166.9C3.4 165.7 13.5 162.1 20.2 159.5C26.9 156.9 33.7 154.3 40.4 151.5C47.1 148.7 53.9 145.8 60.6 142.8C67.3 139.7 74.1 136.6 80.8 133.4C87.5 130.2 94.3 126.8 101.0 123.4C107.7 119.9 114.5 116.4 121.2 112.7C127.9 109.1 134.7 105.3 141.4 101.4C148.1 97.5 154.9 93.6 161.6 89.5C168.3 85.4 178.4 78.9 181.8 76.8" fill="none" stroke="#5050e0" stroke-width="0.9" opacity="0.22"/>
<path d="M0.0 172.1C3.4 170.9 13.5 167.3 20.2 164.7C26.9 162.2 33.7 159.5 40.4 156.7C47.1 153.9 53.9 151.0 60.6 148.0C67.3 145.0 74.1 141.9 80.8 138.6C87.5 135.4 94.3 132.1 101.0 128.6C107.7 125.2 114.5 121.6 121.2 118.0C127.9 114.3 134.7 110.5 141.4 106.7C148.1 102.8 154.9 98.8 161.6 94.7C168.3 90.6 178.4 84.2 181.8 82.1" fill="none" stroke="#5050e0" stroke-width="0.9" opacity="0.35"/>
<path d="M0.0 180.0C3.4 178.8 13.5 175.2 20.2 172.6C26.9 170.0 33.7 167.3 40.4 164.5C47.1 161.8 53.9 158.9 60.6 155.8C67.3 152.8 74.1 149.7 80.8 146.5C87.5 143.3 94.3 139.9 101.0 136.5C107.7 133.0 114.5 129.5 121.2 125.8C127.9 122.2 134.7 118.4 141.4 114.5C148.1 110.6 154.9 106.6 161.6 102.5C168.3 98.4 178.4 92.0 181.8 89.9" fill="none" stroke="#5050e0" stroke-width="0.9" opacity="0.3"/>
<path d="M0.0 186.2C3.4 184.9 13.5 181.3 20.2 178.8C26.9 176.2 33.7 173.5 40.4 170.7C47.1 167.9 53.9 165.0 60.6 162.0C67.3 159.0 74.1 155.9 80.8 152.7C87.5 149.4 94.3 146.1 101.0 142.7C107.7 139.2 114.5 135.7 121.2 132.0C127.9 128.3 134.7 124.6 141.4 120.7C148.1 116.8 154.9 112.8 161.6 108.7C168.3 104.6 178.4 98.2 181.8 96.1" fill="none" stroke="#5050e0" stroke-width="0.9" opacity="0.16"/>
<path d="M0.0 193.0C3.4 191.7 13.5 188.1 20.2 185.6C26.9 183.0 33.7 180.3 40.4 177.5C47.1 174.7 53.9 171.8 60.6 168.8C67.3 165.8 74.1 162.7 80.8 159.5C87.5 156.2 94.3 152.9 101.0 149.4C107.7 146.0 114.5 142.4 121.2 138.8C127.9 135.1 134.7 131.3 141.4 127.5C148.1 123.6 154.9 119.6 161.6 115.5C168.3 111.4 178.4 105.0 181.8 102.9" fill="none" stroke="#e05050" stroke-width="0.9" opacity="0.16"/>
<path d="M0.0 200.0C3.4 198.8 13.5 195.2 20.2 192.6C26.9 190.1 33.7 187.4 40.4 184.6C47.1 181.8 53.9 178.9 60.6 175.9C67.3 172.9 74.1 169.8 80.8 166.5C87.5 163.3 94.3 160.0 101.0 156.5C107.7 153.1 114.5 149.5 121.2 145.9C127.9 142.2 134.7 138.4 141.4 134.6C148.1 130.7 154.9 126.7 161.6 122.6C168.3 118.5 178.4 112.1 181.8 110.0" fill="none" stroke="#5050e0" stroke-width="0.9" opacity="0.08"/>
<path d="M0.0 206.3C3.4 205.0 13.5 201.5 20.2 198.9C26.9 196.3 33.7 193.6 40.4 190.8C47.1 188.0 53.9 185.1 60.6 182.1C67.3 179.1 74.1 176.0 80.8 172.8C87.5 169.6 94.3 166.2 101.0 162.8C107.7 159.3 114.5 155.8 121.2 152.1C127.9 148.4 134.7 144.7 141.4 140.8C148.1 136.9 154.9 132.9 161.6 128.8C168.3 124.7 178.4 118.3 181.8 116.2" fill="none" stroke="#e05050" stroke-width="0.9" opacity="0.08"/>
<path d="M0.0 213.2C3.4 211.9 13.5 208.4 20.2 205.8C26.9 203.2 33.7 200.5 40.4 197.7C47.1 194.9 53.9 192.0 60.6 189.0C67.3 186.0 74.1 182.9 80.8 179.7C87.5 176.4 94.3 173.1 101.0 169.7C107.7 166.2 114.5 162.7 121.2 159.0C127.9 155.3 134.7 151.6 141.4 147.7C148.1 143.8 154.9 139.8 161.6 135.7C168.3 131.6 178.4 125.2 181.8 123.1" fill="none" stroke="#e05050" stroke-width="0.9" opacity="0.35"/>
<path d="M0.0 217.9C3.4 216.6 13.5 213.0 20.2 210.5C26.9 207.9 33.7 205.2 40.4 202.4C47.1 199.6 53.9 196.7 60.6 193.7C67.3 190.7 74.1 187.6 80.8 184.4C87.5 181.1 94.3 177.8 101.0 174.3C107.7 170.9 114.5 167.3 121.2 163.7C127.9 160.0 134.7 156.2 141.4 152.4C148.1 148.5 154.9 144.5 161.6 140.4C168.3 136.3 178.4 129.9 181.8 127.8" fill="none" stroke="#5050e0" stroke-width="0.9" opacity="0.08"/>
<path d="M0.0 224.9C3.4 223.6 13.5 220.0 20.2 217.5C26.9 214.9 33.7 212.2 40.4 209.4C47.1 206.6 53.9 203.7 60.6 200.7C67.3 197.7 74.1 194.6 80.8 191.4C87.5 188.1 94.3 184.8 101.0 181.3C107.7 177.9 114.5 174.3 121.2 170.7C127.9 167.0 134.7 163.3 141.4 159.4C148.1 155.5 154.9 151.5 161.6 147.4C168.3 143.3 178.4 136.9 181.8 134.8" fill="none" stroke="#e05050" stroke-width="0.9" opacity="0.08"/>
<path d="M0.0 232.6C3.4 231.4 13.5 227.8 20.2 225.2C26.9 222.6 33.7 220.0 40.4 217.2C47.1 214.4 53.9 211.5 60.6 208.5C67.3 205.5 74.1 202.3 80.8 199.1C87.5 195.9 94.3 192.5 101.0 189.1C107.7 185.7 114.5 182.1 121.2 178.4C127.9 174.8 134.7 171.0 141.4 167.1C148.1 163.2 154.9 159.3 161.6 155.2C168.3 151.1 178.4 144.6 181.8 142.5" fill="none" stroke="#e05050" stroke-width="0.9" opacity="0.16"/>
<path d="M0.0 238.0C3.4 236.8 13.5 233.2 20.2 230.6C26.9 228.0 33.7 225.3 40.4 222.5C47.1 219.7 53.9 216.8 60.6 213.8C67.3 210.8 74.1 207.7 80.8 204.5C87.5 201.3 94.3 197.9 101.0 194.5C107.7 191.0 114.5 187.5 121.2 183.8C127.9 180.2 134.7 176.4 141.4 172.5C148.1 168.6 154.9 164.6 161.6 160.5C168.3 156.4 178.4 150.0 181.8 147.9" fill="none" stroke="#e05050" stroke-width="0.9" opacity="0.08"/>
<path d="M0.0 245.0C3.4 243.8 13.5 240.2 20.2 237.6C26.9 235.0 33.7 232.4 40.4 229.6C47.1 226.8 53.9 223.9 60.6 220.9C67.3 217.9 74.1 214.7 80.8 211.5C87.5 208.3 94.3 204.9 101.0 201.5C107.7 198.1 114.5 194.5 121.2 190.8C127.9 187.2 134.7 183.4 141.4 179.5C148.1 175.6 154.9 171.7 161.6 167.6C168.3 163.5 178.4 157.0 181.8 154.9" fill="none" stroke="#5050e0" stroke-width="0.9" opacity="0.08"/>
<path d="M0.0 250.7C3.4 249.5 13.5 245.9 20.2 243.3C26.9 240.8 33.7 238.1 40.4 235.3C47.1 232.5 53.9 229.6 60.6 226.6C67.3 223.6 74.1 220.5 80.8 217.2C87.5 214.0 94.3 210.7 101.0 207.2C107.7 203.8 114.5 200.2 121.2 196.6C127.9 192.9 134.7 189.1 141.4 185.3C148.1 181.4 154.9 177.4 161.6 173.3C168.3 169.2 178.4 162.8 181.8 160.7" fill="none" stroke="#e05050" stroke-width="0.9" opacity="0.12"/>
</g>
<path d="M0 22.8H182" stroke="#e2b0b0" stroke-width="1.8"/>
<path d="M2 29.6H20M30 29.6H60M70 29.6H100M110 29.6H140" stroke="#d4d4f4" stroke-width="1" opacity="0.8"/>
<path d="M91.8 30.0 L100.7 36.0 L115.5 53.7 L129.0 65.5" fill="none" stroke="#8a8ad0" stroke-width="1" opacity="0.45"/>
<path d="M6.0 53.0 L28.0 73.6" fill="none" stroke="#a090d0" stroke-width="1" opacity="0.45"/>
<path d="M147.5 88.5 L156.9 95.6 L181.0 92.2" fill="none" stroke="#d08080" stroke-width="1" opacity="0.6"/>
<path d="M1.5 91.4 L29.7 75.1 L64.4 98.8 L122.1 59.6 L129.0 65.0" fill="none" stroke="#c86868" stroke-width="1.2" />
<path d="M129.0 65.0 L135.0 71.0" fill="none" stroke="#d09090" stroke-width="1" />
<path d="M150.0 78.0C152.5 76.7 159.8 73.0 165.0 70.0C170.2 67.0 178.8 61.7 181.5 60.0" fill="none" stroke="#d07070" stroke-width="1.1" opacity="0.8"/>
<path d="M1.0 141.0C5.0 139.3 16.8 134.8 25.0 131.0C33.2 127.2 42.6 122.5 50.0 118.0C57.4 113.5 66.0 106.5 69.2 104.2" fill="none" stroke="#d06868" stroke-width="1.2" />
<path d="M69.2 104.2C71.8 106.4 79.7 113.7 84.8 117.5C89.9 121.3 95.0 124.1 100.0 127.0C105.0 129.9 109.0 131.8 114.6 134.7C120.2 137.6 130.3 142.6 133.4 144.2" fill="none" stroke="#a0a0d8" stroke-width="1.2" />
<path d="M120.0 137.5 L133.4 144.2" fill="none" stroke="#5a5ab8" stroke-width="1.5" />
<path d="M30.0 144.2C34.2 141.8 46.6 135.2 55.0 130.0C63.4 124.8 75.9 115.7 80.1 112.8" fill="none" stroke="#5858b8" stroke-width="1.2" />
<path d="M62.9 125.3 L79.3 113.6 L88.0 119.8 L77.8 128.5 L69.1 127.7" fill="none" stroke="#b04848" stroke-width="1.2" />
<path d="M119.3 137.9C123.6 135.2 136.9 127.1 145.0 122.0C153.1 116.9 164.1 109.8 167.9 107.3" fill="none" stroke="#d06868" stroke-width="1.2" />
<path d="M167.9 107.3 L178.8 115.9" fill="none" stroke="#d07070" stroke-width="1.1" />
<path d="M147.5 144.2C150.4 142.2 159.5 135.7 165.0 132.0C170.5 128.3 177.8 123.8 180.4 122.2" fill="none" stroke="#5858b8" stroke-width="1.2" />
<path d="M1.0 117.0C5.8 114.8 20.7 108.2 30.0 104.0C39.3 99.8 52.5 94.0 57.0 92.0" fill="none" stroke="#d07070" stroke-width="1.1" opacity="0.7"/>
<path d="M10.0 88.0C12.5 86.7 22.5 81.3 25.0 80.0" fill="none" stroke="#8080d0" stroke-width="1.5" opacity="0.5"/>
<circle cx="122.4" cy="39.6" r="0.5" fill="#8080e0" opacity="0.35"/>
<circle cx="173.7" cy="32.9" r="0.5" fill="#8080e0" opacity="0.35"/>
<circle cx="132.8" cy="32.5" r="0.5" fill="#8080e0" opacity="0.35"/>
<circle cx="46.5" cy="124.3" r="0.5" fill="#8080e0" opacity="0.35"/>
<circle cx="28.6" cy="51.3" r="0.5" fill="#8080e0" opacity="0.35"/>
<circle cx="125.9" cy="74.7" r="0.5" fill="#8080e0" opacity="0.35"/>
<circle cx="7.9" cy="144.8" r="0.5" fill="#8080e0" opacity="0.35"/>
<circle cx="27.6" cy="34.2" r="0.5" fill="#8080e0" opacity="0.35"/>
<circle cx="62.6" cy="101.4" r="0.5" fill="#8080e0" opacity="0.35"/>
<circle cx="135.1" cy="43.1" r="0.5" fill="#8080e0" opacity="0.35"/>
<circle cx="61.4" cy="33.6" r="0.5" fill="#8080e0" opacity="0.35"/>
<circle cx="81.7" cy="118.9" r="0.5" fill="#8080e0" opacity="0.35"/>
<circle cx="134.7" cy="134.6" r="0.5" fill="#8080e0" opacity="0.35"/>
<circle cx="137.5" cy="130.0" r="0.5" fill="#8080e0" opacity="0.35"/>
<circle cx="128.4" cy="84.8" r="0.5" fill="#8080e0" opacity="0.35"/>
<circle cx="41.0" cy="106.7" r="0.5" fill="#8080e0" opacity="0.35"/>
<circle cx="57.6" cy="41.8" r="0.5" fill="#8080e0" opacity="0.35"/>
<circle cx="81.5" cy="131.5" r="0.5" fill="#8080e0" opacity="0.35"/>
<circle cx="23.2" cy="97.9" r="0.5" fill="#8080e0" opacity="0.35"/>
<circle cx="71.5" cy="89.7" r="0.5" fill="#8080e0" opacity="0.35"/>
<circle cx="26.2" cy="141.3" r="0.5" fill="#8080e0" opacity="0.35"/>
<circle cx="47.2" cy="100.3" r="0.5" fill="#8080e0" opacity="0.35"/>
<circle cx="76.4" cy="32.1" r="0.5" fill="#8080e0" opacity="0.35"/>
<circle cx="101.5" cy="46.3" r="0.5" fill="#8080e0" opacity="0.35"/>
<circle cx="10.3" cy="33.9" r="0.5" fill="#8080e0" opacity="0.35"/></g></g>
<rect x="623.6" y="405.2" width="181.7" height="145.4" fill="none" stroke="#111" stroke-width="1.8"/>
<rect x="759.4" y="477.8" width="9.6" height="7.4" fill="none" stroke="#222" stroke-width="1"/>
<clipPath id="iclipC"><rect x="748.3" y="400.2" width="58.4" height="58.4"/></clipPath>
<g clip-path="url(#iclipC)"><rect x="748.3" y="400.2" width="58.4" height="58.4" fill="#fefcfd"/><g transform="translate(748.3,400.2)"><path d="M0.0 10.1 L14.1 0.0" fill="none" stroke="#4848b0" stroke-width="1.3" />
<path d="M0.0 21.3 L15.4 41.7 L58.6 18.7" fill="none" stroke="#a02828" stroke-width="1.3" stroke-dasharray="2.2 0.5"/>
<path d="M15.4 41.7 L24.0 55.5 L58.6 38.4" fill="none" stroke="#a02828" stroke-width="1.3" stroke-dasharray="2.2 0.5"/>
<circle cx="22.5" cy="47.8" r="0.75" fill="#4040c0" opacity="0.8"/>
<circle cx="25.7" cy="46.1" r="0.75" fill="#4040c0" opacity="0.8"/>
<circle cx="28.4" cy="44.7" r="0.75" fill="#4040c0" opacity="0.8"/>
<circle cx="31.9" cy="42.9" r="0.75" fill="#4040c0" opacity="0.8"/>
<circle cx="35.9" cy="40.8" r="0.75" fill="#4040c0" opacity="0.8"/>
<circle cx="39.1" cy="39.1" r="0.75" fill="#4040c0" opacity="0.8"/>
<circle cx="43.9" cy="36.6" r="0.75" fill="#4040c0" opacity="0.8"/>
<circle cx="47.2" cy="34.9" r="0.75" fill="#4040c0" opacity="0.8"/>
<circle cx="18.0" cy="32.0" r="0.7" fill="#6060d0" opacity="0.5"/>
<circle cx="18.5" cy="55.5" r="0.7" fill="#6060d0" opacity="0.5"/>
<circle cx="30.0" cy="22.0" r="0.7" fill="#6060d0" opacity="0.5"/>
<circle cx="45.0" cy="25.0" r="0.7" fill="#6060d0" opacity="0.5"/></g></g>
<rect x="748.3" y="400.2" width="58.4" height="58.4" fill="none" stroke="#111" stroke-width="1.8"/>
<text x="714.70" y="394.30" font-size="13.3" text-anchor="middle" fill="#111" textLength="35" lengthAdjust="spacingAndGlyphs" >FISTA</text>
<path d="M612.6 412.4H623.6" stroke="#111" stroke-width="1.8"/>
<text x="607.10" y="417.20" font-size="13.6" text-anchor="end" fill="#111" textLength="24.8" lengthAdjust="spacingAndGlyphs" >0.25</text>
<path d="M612.6 448.8H623.6" stroke="#111" stroke-width="1.8"/>
<text x="607.10" y="453.60" font-size="13.6" text-anchor="end" fill="#111" textLength="24.8" lengthAdjust="spacingAndGlyphs" >0.50</text>
<path d="M612.6 485.0H623.6" stroke="#111" stroke-width="1.8"/>
<text x="607.10" y="489.80" font-size="13.6" text-anchor="end" fill="#111" textLength="24.8" lengthAdjust="spacingAndGlyphs" >0.75</text>
<path d="M612.6 521.4H623.6" stroke="#111" stroke-width="1.8"/>
<text x="607.10" y="526.20" font-size="13.6" text-anchor="end" fill="#111" textLength="24.8" lengthAdjust="spacingAndGlyphs" >1.00</text>
<text transform="translate(572.4,467.8) rotate(-90)" font-size="12.6" text-anchor="middle" fill="#111" textLength="49" lengthAdjust="spacingAndGlyphs">TIME (s)</text>
<path d="M677.4 550.6V561.6" stroke="#111" stroke-width="1.8"/>
<text x="677.40" y="577.60" font-size="13.4" text-anchor="middle" fill="#111" textLength="17.3" lengthAdjust="spacingAndGlyphs" >8.5</text>
<path d="M750.1 550.6V561.6" stroke="#111" stroke-width="1.8"/>
<text x="750.10" y="577.60" font-size="13.4" text-anchor="middle" fill="#111" textLength="17.3" lengthAdjust="spacingAndGlyphs" >9.0</text>
<text x="708.00" y="592.90" font-size="12.6" text-anchor="middle" fill="#111" textLength="92.5" lengthAdjust="spacingAndGlyphs" >DISTANCE (km)</text>
<clipPath id="clipD"><rect x="910.9" y="406.7" width="182.1" height="145.3"/></clipPath>
<g clip-path="url(#clipD)"><rect x="910.9" y="406.7" width="182.1" height="145.3" fill="#fefcfd"/><g transform="translate(910.9,406.7)"><clipPath id="rc3"><rect x="0" y="30" width="182" height="120"/></clipPath><g clip-path="url(#rc3)">
<path d="M0.0 7.0C3.4 5.7 13.5 2.1 20.2 -0.4C26.9 -3.0 33.7 -5.7 40.4 -8.5C47.1 -11.3 53.9 -14.2 60.6 -17.2C67.3 -20.2 74.1 -23.3 80.8 -26.5C87.5 -29.8 94.3 -33.1 101.0 -36.5C107.7 -40.0 114.5 -43.5 121.2 -47.2C127.9 -50.9 134.7 -54.6 141.4 -58.5C148.1 -62.4 154.9 -66.4 161.6 -70.5C168.3 -74.6 178.4 -81.0 181.8 -83.1" fill="none" stroke="#e05050" stroke-width="0.9" opacity="0.16"/>
<path d="M0.0 15.2C3.4 14.0 13.5 10.4 20.2 7.8C26.9 5.2 33.7 2.5 40.4 -0.2C47.1 -3.0 53.9 -5.9 60.6 -8.9C67.3 -12.0 74.1 -15.1 80.8 -18.3C87.5 -21.5 94.3 -24.9 101.0 -28.3C107.7 -31.8 114.5 -35.3 121.2 -39.0C127.9 -42.6 134.7 -46.4 141.4 -50.3C148.1 -54.2 154.9 -58.2 161.6 -62.3C168.3 -66.4 178.4 -72.8 181.8 -74.9" fill="none" stroke="#e05050" stroke-width="0.9" opacity="0.3"/>
<path d="M0.0 19.8C3.4 18.5 13.5 14.9 20.2 12.4C26.9 9.8 33.7 7.1 40.4 4.3C47.1 1.5 53.9 -1.4 60.6 -4.4C67.3 -7.4 74.1 -10.5 80.8 -13.7C87.5 -17.0 94.3 -20.3 101.0 -23.8C107.7 -27.2 114.5 -30.8 121.2 -34.4C127.9 -38.1 134.7 -41.8 141.4 -45.7C148.1 -49.6 154.9 -53.6 161.6 -57.7C168.3 -61.8 178.4 -68.2 181.8 -70.3" fill="none" stroke="#e05050" stroke-width="0.9" opacity="0.22"/>
<path d="M0.0 26.8C3.4 25.6 13.5 22.0 20.2 19.4C26.9 16.9 33.7 14.2 40.4 11.4C47.1 8.6 53.9 5.7 60.6 2.7C67.3 -0.3 74.1 -3.5 80.8 -6.7C87.5 -9.9 94.3 -13.2 101.0 -16.7C107.7 -20.1 114.5 -23.7 121.2 -27.3C127.9 -31.0 134.7 -34.8 141.4 -38.7C148.1 -42.5 154.9 -46.5 161.6 -50.6C168.3 -54.7 178.4 -61.1 181.8 -63.2" fill="none" stroke="#e05050" stroke-width="0.9" opacity="0.35"/>
<path d="M0.0 33.9C3.4 32.7 13.5 29.1 20.2 26.5C26.9 24.0 33.7 21.3 40.4 18.5C47.1 15.7 53.9 12.8 60.6 9.8C67.3 6.8 74.1 3.7 80.8 0.4C87.5 -2.8 94.3 -6.1 101.0 -9.6C107.7 -13.0 114.5 -16.6 121.2 -20.2C127.9 -23.9 134.7 -27.7 141.4 -31.6C148.1 -35.4 154.9 -39.4 161.6 -43.5C168.3 -47.6 178.4 -54.0 181.8 -56.1" fill="none" stroke="#5050e0" stroke-width="0.9" opacity="0.22"/>
<path d="M0.0 40.4C3.4 39.1 13.5 35.5 20.2 33.0C26.9 30.4 33.7 27.7 40.4 24.9C47.1 22.1 53.9 19.2 60.6 16.2C67.3 13.2 74.1 10.1 80.8 6.9C87.5 3.6 94.3 0.3 101.0 -3.2C107.7 -6.6 114.5 -10.2 121.2 -13.8C127.9 -17.5 134.7 -21.3 141.4 -25.1C148.1 -29.0 154.9 -33.0 161.6 -37.1C168.3 -41.2 178.4 -47.6 181.8 -49.7" fill="none" stroke="#5050e0" stroke-width="0.9" opacity="0.12"/>
<path d="M0.0 47.5C3.4 46.3 13.5 42.7 20.2 40.1C26.9 37.6 33.7 34.9 40.4 32.1C47.1 29.3 53.9 26.4 60.6 23.4C67.3 20.4 74.1 17.2 80.8 14.0C87.5 10.8 94.3 7.5 101.0 4.0C107.7 0.6 114.5 -3.0 121.2 -6.6C127.9 -10.3 134.7 -14.1 141.4 -18.0C148.1 -21.8 154.9 -25.8 161.6 -29.9C168.3 -34.0 178.4 -40.4 181.8 -42.5" fill="none" stroke="#5050e0" stroke-width="0.9" opacity="0.3"/>
<path d="M0.0 53.5C3.4 52.3 13.5 48.7 20.2 46.1C26.9 43.6 33.7 40.9 40.4 38.1C47.1 35.3 53.9 32.4 60.6 29.4C67.3 26.4 74.1 23.3 80.8 20.0C87.5 16.8 94.3 13.5 101.0 10.0C107.7 6.6 114.5 3.0 121.2 -0.6C127.9 -4.3 134.7 -8.1 141.4 -11.9C148.1 -15.8 154.9 -19.8 161.6 -23.9C168.3 -28.0 178.4 -34.4 181.8 -36.5" fill="none" stroke="#e05050" stroke-width="0.9" opacity="0.08"/>
<path d="M0.0 59.6C3.4 58.3 13.5 54.8 20.2 52.2C26.9 49.6 33.7 46.9 40.4 44.1C47.1 41.3 53.9 38.4 60.6 35.4C67.3 32.4 74.1 29.3 80.8 26.1C87.5 22.9 94.3 19.5 101.0 16.1C107.7 12.6 114.5 9.1 121.2 5.4C127.9 1.7 134.7 -2.0 141.4 -5.9C148.1 -9.8 154.9 -13.8 161.6 -17.9C168.3 -22.0 178.4 -28.4 181.8 -30.5" fill="none" stroke="#5050e0" stroke-width="0.9" opacity="0.08"/>
<path d="M0.0 66.5C3.4 65.3 13.5 61.7 20.2 59.1C26.9 56.6 33.7 53.9 40.4 51.1C47.1 48.3 53.9 45.4 60.6 42.4C67.3 39.4 74.1 36.2 80.8 33.0C87.5 29.8 94.3 26.5 101.0 23.0C107.7 19.6 114.5 16.0 121.2 12.4C127.9 8.7 134.7 4.9 141.4 1.0C148.1 -2.8 154.9 -6.8 161.6 -10.9C168.3 -15.0 178.4 -21.4 181.8 -23.5" fill="none" stroke="#e05050" stroke-width="0.9" opacity="0.16"/>
<path d="M0.0 73.5C3.4 72.3 13.5 68.7 20.2 66.1C26.9 63.6 33.7 60.9 40.4 58.1C47.1 55.3 53.9 52.4 60.6 49.4C67.3 46.4 74.1 43.3 80.8 40.0C87.5 36.8 94.3 33.5 101.0 30.0C107.7 26.6 114.5 23.0 121.2 19.4C127.9 15.7 134.7 11.9 141.4 8.0C148.1 4.2 154.9 0.2 161.6 -3.9C168.3 -8.0 178.4 -14.4 181.8 -16.5" fill="none" stroke="#5050e0" stroke-width="0.9" opacity="0.22"/>
<path d="M0.0 80.7C3.4 79.5 13.5 75.9 20.2 73.3C26.9 70.7 33.7 68.1 40.4 65.3C47.1 62.5 53.9 59.6 60.6 56.6C67.3 53.6 74.1 50.4 80.8 47.2C87.5 44.0 94.3 40.6 101.0 37.2C107.7 33.8 114.5 30.2 121.2 26.5C127.9 22.9 134.7 19.1 141.4 15.2C148.1 11.3 154.9 7.4 161.6 3.3C168.3 -0.8 178.4 -7.3 181.8 -9.4" fill="none" stroke="#5050e0" stroke-width="0.9" opacity="0.22"/>
<path d="M0.0 87.3C3.4 86.1 13.5 82.5 20.2 80.0C26.9 77.4 33.7 74.7 40.4 71.9C47.1 69.1 53.9 66.2 60.6 63.2C67.3 60.2 74.1 57.1 80.8 53.8C87.5 50.6 94.3 47.3 101.0 43.8C107.7 40.4 114.5 36.8 121.2 33.2C127.9 29.5 134.7 25.7 141.4 21.9C148.1 18.0 154.9 14.0 161.6 9.9C168.3 5.8 178.4 -0.6 181.8 -2.7" fill="none" stroke="#5050e0" stroke-width="0.9" opacity="0.12"/>
<path d="M0.0 94.3C3.4 93.1 13.5 89.5 20.2 86.9C26.9 84.3 33.7 81.7 40.4 78.9C47.1 76.1 53.9 73.2 60.6 70.2C67.3 67.2 74.1 64.0 80.8 60.8C87.5 57.6 94.3 54.2 101.0 50.8C107.7 47.4 114.5 43.8 121.2 40.1C127.9 36.5 134.7 32.7 141.4 28.8C148.1 24.9 154.9 21.0 161.6 16.9C168.3 12.8 178.4 6.3 181.8 4.2" fill="none" stroke="#e05050" stroke-width="0.9" opacity="0.12"/>
<path d="M0.0 100.0C3.4 98.8 13.5 95.2 20.2 92.6C26.9 90.0 33.7 87.3 40.4 84.5C47.1 81.8 53.9 78.8 60.6 75.8C67.3 72.8 74.1 69.7 80.8 66.5C87.5 63.3 94.3 59.9 101.0 56.5C107.7 53.0 114.5 49.5 121.2 45.8C127.9 42.2 134.7 38.4 141.4 34.5C148.1 30.6 154.9 26.6 161.6 22.5C168.3 18.4 178.4 12.0 181.8 9.9" fill="none" stroke="#e05050" stroke-width="0.9" opacity="0.35"/>
<path d="M0.0 106.4C3.4 105.2 13.5 101.6 20.2 99.1C26.9 96.5 33.7 93.8 40.4 91.0C47.1 88.2 53.9 85.3 60.6 82.3C67.3 79.3 74.1 76.2 80.8 72.9C87.5 69.7 94.3 66.4 101.0 62.9C107.7 59.5 114.5 55.9 121.2 52.3C127.9 48.6 134.7 44.8 141.4 41.0C148.1 37.1 154.9 33.1 161.6 29.0C168.3 24.9 178.4 18.5 181.8 16.4" fill="none" stroke="#5050e0" stroke-width="0.9" opacity="0.16"/>
<path d="M0.0 113.0C3.4 111.8 13.5 108.2 20.2 105.6C26.9 103.0 33.7 100.4 40.4 97.6C47.1 94.8 53.9 91.9 60.6 88.9C67.3 85.9 74.1 82.7 80.8 79.5C87.5 76.3 94.3 72.9 101.0 69.5C107.7 66.1 114.5 62.5 121.2 58.8C127.9 55.2 134.7 51.4 141.4 47.5C148.1 43.6 154.9 39.7 161.6 35.6C168.3 31.5 178.4 25.0 181.8 22.9" fill="none" stroke="#5050e0" stroke-width="0.9" opacity="0.3"/>
<path d="M0.0 119.4C3.4 118.2 13.5 114.6 20.2 112.0C26.9 109.5 33.7 106.8 40.4 104.0C47.1 101.2 53.9 98.3 60.6 95.3C67.3 92.3 74.1 89.2 80.8 85.9C87.5 82.7 94.3 79.4 101.0 75.9C107.7 72.5 114.5 68.9 121.2 65.3C127.9 61.6 134.7 57.8 141.4 54.0C148.1 50.1 154.9 46.1 161.6 42.0C168.3 37.9 178.4 31.5 181.8 29.4" fill="none" stroke="#5050e0" stroke-width="0.9" opacity="0.3"/>
<path d="M0.0 125.8C3.4 124.5 13.5 120.9 20.2 118.4C26.9 115.8 33.7 113.1 40.4 110.3C47.1 107.5 53.9 104.6 60.6 101.6C67.3 98.6 74.1 95.5 80.8 92.3C87.5 89.0 94.3 85.7 101.0 82.2C107.7 78.8 114.5 75.2 121.2 71.6C127.9 67.9 134.7 64.2 141.4 60.3C148.1 56.4 154.9 52.4 161.6 48.3C168.3 44.2 178.4 37.8 181.8 35.7" fill="none" stroke="#e05050" stroke-width="0.9" opacity="0.08"/>
<path d="M0.0 133.9C3.4 132.6 13.5 129.0 20.2 126.5C26.9 123.9 33.7 121.2 40.4 118.4C47.1 115.6 53.9 112.7 60.6 109.7C67.3 106.7 74.1 103.6 80.8 100.4C87.5 97.1 94.3 93.8 101.0 90.3C107.7 86.9 114.5 83.3 121.2 79.7C127.9 76.0 134.7 72.3 141.4 68.4C148.1 64.5 154.9 60.5 161.6 56.4C168.3 52.3 178.4 45.9 181.8 43.8" fill="none" stroke="#5050e0" stroke-width="0.9" opacity="0.35"/>
<path d="M0.0 140.1C3.4 138.8 13.5 135.2 20.2 132.7C26.9 130.1 33.7 127.4 40.4 124.6C47.1 121.8 53.9 118.9 60.6 115.9C67.3 112.9 74.1 109.8 80.8 106.6C87.5 103.3 94.3 100.0 101.0 96.6C107.7 93.1 114.5 89.6 121.2 85.9C127.9 82.2 134.7 78.5 141.4 74.6C148.1 70.7 154.9 66.7 161.6 62.6C168.3 58.5 178.4 52.1 181.8 50.0" fill="none" stroke="#5050e0" stroke-width="0.9" opacity="0.16"/>
<path d="M0.0 147.3C3.4 146.1 13.5 142.5 20.2 139.9C26.9 137.3 33.7 134.7 40.4 131.9C47.1 129.1 53.9 126.2 60.6 123.2C67.3 120.2 74.1 117.0 80.8 113.8C87.5 110.6 94.3 107.2 101.0 103.8C107.7 100.4 114.5 96.8 121.2 93.1C127.9 89.5 134.7 85.7 141.4 81.8C148.1 77.9 154.9 74.0 161.6 69.9C168.3 65.8 178.4 59.3 181.8 57.2" fill="none" stroke="#5050e0" stroke-width="0.9" opacity="0.3"/>
<path d="M0.0 151.8C3.4 150.6 13.5 147.0 20.2 144.5C26.9 141.9 33.7 139.2 40.4 136.4C47.1 133.6 53.9 130.7 60.6 127.7C67.3 124.7 74.1 121.6 80.8 118.3C87.5 115.1 94.3 111.8 101.0 108.3C107.7 104.9 114.5 101.3 121.2 97.7C127.9 94.0 134.7 90.2 141.4 86.4C148.1 82.5 154.9 78.5 161.6 74.4C168.3 70.3 178.4 63.9 181.8 61.8" fill="none" stroke="#5050e0" stroke-width="0.9" opacity="0.35"/>
<path d="M0.0 160.2C3.4 159.0 13.5 155.4 20.2 152.8C26.9 150.2 33.7 147.5 40.4 144.8C47.1 142.0 53.9 139.1 60.6 136.0C67.3 133.0 74.1 129.9 80.8 126.7C87.5 123.5 94.3 120.1 101.0 116.7C107.7 113.2 114.5 109.7 121.2 106.0C127.9 102.4 134.7 98.6 141.4 94.7C148.1 90.8 154.9 86.8 161.6 82.7C168.3 78.6 178.4 72.2 181.8 70.1" fill="none" stroke="#5050e0" stroke-width="0.9" opacity="0.16"/>
<path d="M0.0 165.1C3.4 163.9 13.5 160.3 20.2 157.7C26.9 155.1 33.7 152.4 40.4 149.7C47.1 146.9 53.9 144.0 60.6 141.0C67.3 137.9 74.1 134.8 80.8 131.6C87.5 128.4 94.3 125.0 101.0 121.6C107.7 118.1 114.5 114.6 121.2 110.9C127.9 107.3 134.7 103.5 141.4 99.6C148.1 95.7 154.9 91.7 161.6 87.6C168.3 83.5 178.4 77.1 181.8 75.0" fill="none" stroke="#e05050" stroke-width="0.9" opacity="0.35"/>
<path d="M0.0 173.8C3.4 172.5 13.5 169.0 20.2 166.4C26.9 163.8 33.7 161.1 40.4 158.3C47.1 155.5 53.9 152.6 60.6 149.6C67.3 146.6 74.1 143.5 80.8 140.3C87.5 137.0 94.3 133.7 101.0 130.3C107.7 126.8 114.5 123.3 121.2 119.6C127.9 115.9 134.7 112.2 141.4 108.3C148.1 104.4 154.9 100.4 161.6 96.3C168.3 92.2 178.4 85.8 181.8 83.7" fill="none" stroke="#e05050" stroke-width="0.9" opacity="0.08"/>
<path d="M0.0 179.0C3.4 177.8 13.5 174.2 20.2 171.6C26.9 169.0 33.7 166.3 40.4 163.5C47.1 160.7 53.9 157.8 60.6 154.8C67.3 151.8 74.1 148.7 80.8 145.5C87.5 142.3 94.3 138.9 101.0 135.5C107.7 132.0 114.5 128.5 121.2 124.8C127.9 121.2 134.7 117.4 141.4 113.5C148.1 109.6 154.9 105.6 161.6 101.5C168.3 97.4 178.4 91.0 181.8 88.9" fill="none" stroke="#e05050" stroke-width="0.9" opacity="0.16"/>
<path d="M0.0 185.6C3.4 184.4 13.5 180.8 20.2 178.2C26.9 175.7 33.7 173.0 40.4 170.2C47.1 167.4 53.9 164.5 60.6 161.5C67.3 158.5 74.1 155.3 80.8 152.1C87.5 148.9 94.3 145.6 101.0 142.1C107.7 138.7 114.5 135.1 121.2 131.5C127.9 127.8 134.7 124.0 141.4 120.1C148.1 116.3 154.9 112.3 161.6 108.2C168.3 104.1 178.4 97.7 181.8 95.6" fill="none" stroke="#e05050" stroke-width="0.9" opacity="0.08"/>
<path d="M0.0 191.3C3.4 190.1 13.5 186.5 20.2 183.9C26.9 181.3 33.7 178.7 40.4 175.9C47.1 173.1 53.9 170.2 60.6 167.2C67.3 164.1 74.1 161.0 80.8 157.8C87.5 154.6 94.3 151.2 101.0 147.8C107.7 144.4 114.5 140.8 121.2 137.1C127.9 133.5 134.7 129.7 141.4 125.8C148.1 121.9 154.9 118.0 161.6 113.9C168.3 109.8 178.4 103.3 181.8 101.2" fill="none" stroke="#5050e0" stroke-width="0.9" opacity="0.08"/>
<path d="M0.0 198.7C3.4 197.5 13.5 193.9 20.2 191.3C26.9 188.7 33.7 186.1 40.4 183.3C47.1 180.5 53.9 177.6 60.6 174.6C67.3 171.5 74.1 168.4 80.8 165.2C87.5 162.0 94.3 158.6 101.0 155.2C107.7 151.8 114.5 148.2 121.2 144.5C127.9 140.9 134.7 137.1 141.4 133.2C148.1 129.3 154.9 125.4 161.6 121.3C168.3 117.2 178.4 110.7 181.8 108.6" fill="none" stroke="#5050e0" stroke-width="0.9" opacity="0.3"/>
<path d="M0.0 206.5C3.4 205.3 13.5 201.7 20.2 199.1C26.9 196.5 33.7 193.9 40.4 191.1C47.1 188.3 53.9 185.4 60.6 182.4C67.3 179.4 74.1 176.2 80.8 173.0C87.5 169.8 94.3 166.4 101.0 163.0C107.7 159.6 114.5 156.0 121.2 152.3C127.9 148.7 134.7 144.9 141.4 141.0C148.1 137.1 154.9 133.2 161.6 129.1C168.3 125.0 178.4 118.5 181.8 116.4" fill="none" stroke="#5050e0" stroke-width="0.9" opacity="0.3"/>
<path d="M0.0 211.6C3.4 210.3 13.5 206.7 20.2 204.2C26.9 201.6 33.7 198.9 40.4 196.1C47.1 193.3 53.9 190.4 60.6 187.4C67.3 184.4 74.1 181.3 80.8 178.1C87.5 174.8 94.3 171.5 101.0 168.1C107.7 164.6 114.5 161.1 121.2 157.4C127.9 153.7 134.7 150.0 141.4 146.1C148.1 142.2 154.9 138.2 161.6 134.1C168.3 130.0 178.4 123.6 181.8 121.5" fill="none" stroke="#e05050" stroke-width="0.9" opacity="0.08"/>
<path d="M0.0 217.8C3.4 216.6 13.5 213.0 20.2 210.4C26.9 207.8 33.7 205.1 40.4 202.3C47.1 199.5 53.9 196.6 60.6 193.6C67.3 190.6 74.1 187.5 80.8 184.3C87.5 181.1 94.3 177.7 101.0 174.3C107.7 170.8 114.5 167.3 121.2 163.6C127.9 160.0 134.7 156.2 141.4 152.3C148.1 148.4 154.9 144.4 161.6 140.3C168.3 136.2 178.4 129.8 181.8 127.7" fill="none" stroke="#5050e0" stroke-width="0.9" opacity="0.08"/>
<path d="M0.0 226.5C3.4 225.2 13.5 221.7 20.2 219.1C26.9 216.5 33.7 213.8 40.4 211.0C47.1 208.2 53.9 205.3 60.6 202.3C67.3 199.3 74.1 196.2 80.8 193.0C87.5 189.7 94.3 186.4 101.0 183.0C107.7 179.5 114.5 176.0 121.2 172.3C127.9 168.6 134.7 164.9 141.4 161.0C148.1 157.1 154.9 153.1 161.6 149.0C168.3 144.9 178.4 138.5 181.8 136.4" fill="none" stroke="#5050e0" stroke-width="0.9" opacity="0.16"/>
<path d="M0.0 232.3C3.4 231.0 13.5 227.4 20.2 224.9C26.9 222.3 33.7 219.6 40.4 216.8C47.1 214.0 53.9 211.1 60.6 208.1C67.3 205.1 74.1 202.0 80.8 198.8C87.5 195.5 94.3 192.2 101.0 188.8C107.7 185.3 114.5 181.8 121.2 178.1C127.9 174.4 134.7 170.7 141.4 166.8C148.1 162.9 154.9 158.9 161.6 154.8C168.3 150.7 178.4 144.3 181.8 142.2" fill="none" stroke="#e05050" stroke-width="0.9" opacity="0.08"/>
<path d="M0.0 239.8C3.4 238.5 13.5 234.9 20.2 232.4C26.9 229.8 33.7 227.1 40.4 224.3C47.1 221.5 53.9 218.6 60.6 215.6C67.3 212.6 74.1 209.5 80.8 206.2C87.5 203.0 94.3 199.7 101.0 196.2C107.7 192.8 114.5 189.2 121.2 185.6C127.9 181.9 134.7 178.1 141.4 174.3C148.1 170.4 154.9 166.4 161.6 162.3C168.3 158.2 178.4 151.8 181.8 149.7" fill="none" stroke="#e05050" stroke-width="0.9" opacity="0.16"/>
<path d="M0.0 246.3C3.4 245.1 13.5 241.5 20.2 238.9C26.9 236.3 33.7 233.6 40.4 230.9C47.1 228.1 53.9 225.2 60.6 222.2C67.3 219.1 74.1 216.0 80.8 212.8C87.5 209.6 94.3 206.2 101.0 202.8C107.7 199.3 114.5 195.8 121.2 192.1C127.9 188.5 134.7 184.7 141.4 180.8C148.1 176.9 154.9 172.9 161.6 168.8C168.3 164.8 178.4 158.3 181.8 156.2" fill="none" stroke="#5050e0" stroke-width="0.9" opacity="0.22"/>
<path d="M0.0 251.5C3.4 250.3 13.5 246.7 20.2 244.1C26.9 241.5 33.7 238.9 40.4 236.1C47.1 233.3 53.9 230.4 60.6 227.4C67.3 224.3 74.1 221.2 80.8 218.0C87.5 214.8 94.3 211.4 101.0 208.0C107.7 204.5 114.5 201.0 121.2 197.3C127.9 193.7 134.7 189.9 141.4 186.0C148.1 182.1 154.9 178.2 161.6 174.1C168.3 170.0 178.4 163.5 181.8 161.4" fill="none" stroke="#5050e0" stroke-width="0.9" opacity="0.22"/>
</g>
<path d="M0 22.8H182" stroke="#e2b0b0" stroke-width="1.8"/>
<path d="M2 29.6H20M30 29.6H60M70 29.6H100M110 29.6H140" stroke="#d4d4f4" stroke-width="1" opacity="0.8"/>
<path d="M91.8 30.0 L100.7 36.0 L115.5 53.7 L129.0 65.5" fill="none" stroke="#8a8ad0" stroke-width="1" opacity="0.45"/>
<path d="M6.0 53.0 L28.0 73.6" fill="none" stroke="#a090d0" stroke-width="1" opacity="0.45"/>
<path d="M147.5 88.5 L156.9 95.6 L181.0 92.2" fill="none" stroke="#d08080" stroke-width="1" opacity="0.6"/>
<path d="M1.5 91.4 L29.7 75.1 L64.4 98.8 L122.1 59.6 L129.0 65.0" fill="none" stroke="#c86868" stroke-width="1.2" />
<path d="M129.0 65.0 L135.0 71.0" fill="none" stroke="#d09090" stroke-width="1" />
<path d="M150.0 78.0C152.5 76.7 159.8 73.0 165.0 70.0C170.2 67.0 178.8 61.7 181.5 60.0" fill="none" stroke="#d07070" stroke-width="1.1" opacity="0.8"/>
<path d="M1.0 141.0C5.0 139.3 16.8 134.8 25.0 131.0C33.2 127.2 42.6 122.5 50.0 118.0C57.4 113.5 66.0 106.5 69.2 104.2" fill="none" stroke="#d06868" stroke-width="1.2" />
<path d="M69.2 104.2C71.8 106.4 79.7 113.7 84.8 117.5C89.9 121.3 95.0 124.1 100.0 127.0C105.0 129.9 109.0 131.8 114.6 134.7C120.2 137.6 130.3 142.6 133.4 144.2" fill="none" stroke="#a0a0d8" stroke-width="1.2" />
<path d="M120.0 137.5 L133.4 144.2" fill="none" stroke="#5a5ab8" stroke-width="1.5" />
<path d="M30.0 144.2C34.2 141.8 46.6 135.2 55.0 130.0C63.4 124.8 75.9 115.7 80.1 112.8" fill="none" stroke="#5858b8" stroke-width="1.2" />
<path d="M62.9 125.3 L79.3 113.6 L88.0 119.8 L77.8 128.5 L69.1 127.7" fill="none" stroke="#b04848" stroke-width="1.2" />
<path d="M119.3 137.9C123.6 135.2 136.9 127.1 145.0 122.0C153.1 116.9 164.1 109.8 167.9 107.3" fill="none" stroke="#d06868" stroke-width="1.2" />
<path d="M167.9 107.3 L178.8 115.9" fill="none" stroke="#d07070" stroke-width="1.1" />
<path d="M147.5 144.2C150.4 142.2 159.5 135.7 165.0 132.0C170.5 128.3 177.8 123.8 180.4 122.2" fill="none" stroke="#5858b8" stroke-width="1.2" />
<path d="M1.0 117.0C5.8 114.8 20.7 108.2 30.0 104.0C39.3 99.8 52.5 94.0 57.0 92.0" fill="none" stroke="#d07070" stroke-width="1.1" opacity="0.7"/>
<path d="M10.0 88.0C12.5 86.7 22.5 81.3 25.0 80.0" fill="none" stroke="#8080d0" stroke-width="1.5" opacity="0.5"/></g></g>
<rect x="910.9" y="406.7" width="182.1" height="145.3" fill="none" stroke="#111" stroke-width="1.8"/>
<rect x="1046.5" y="478.5" width="9.8" height="7.5" fill="none" stroke="#222" stroke-width="1"/>
<clipPath id="iclipD"><rect x="1035.3" y="401.6" width="59.2" height="58.4"/></clipPath>
<g clip-path="url(#iclipD)"><rect x="1035.3" y="401.6" width="59.2" height="58.4" fill="#fefcfd"/><g transform="translate(1035.3,401.6)"><path d="M0.0 10.1 L14.1 0.0" fill="none" stroke="#4848b0" stroke-width="1.3" />
<path d="M0.0 21.3 L15.4 41.7 L58.6 18.7" fill="none" stroke="#a02828" stroke-width="1.3" stroke-dasharray="2.2 0.5"/>
<path d="M15.4 41.7 L24.0 55.5 L58.6 38.4" fill="none" stroke="#a02828" stroke-width="1.3" stroke-dasharray="2.2 0.5"/></g></g>
<rect x="1035.3" y="401.6" width="59.2" height="58.4" fill="none" stroke="#111" stroke-width="1.8"/>
<text x="1002.00" y="393.30" font-size="13.3" text-anchor="middle" fill="#111" textLength="91" lengthAdjust="spacingAndGlyphs" >NuSPAN (Ours)</text>
<path d="M965.3 552.0V563.0" stroke="#111" stroke-width="1.8"/>
<text x="965.30" y="577.60" font-size="13.4" text-anchor="middle" fill="#111" textLength="17.3" lengthAdjust="spacingAndGlyphs" >8.5</text>
<path d="M1038.0 552.0V563.0" stroke="#111" stroke-width="1.8"/>
<text x="1038.00" y="577.60" font-size="13.4" text-anchor="middle" fill="#111" textLength="17.3" lengthAdjust="spacingAndGlyphs" >9.0</text>
<text x="995.00" y="592.90" font-size="12.6" text-anchor="middle" fill="#111" textLength="92.5" lengthAdjust="spacingAndGlyphs" >DISTANCE (km)</text>
<rect x="819.8" y="225.7" width="7.1" height="141.3" fill="url(#virV)" stroke="#111" stroke-width="1"/>
<path d="M826.9 366.6H832.8" stroke="#111" stroke-width="1.3"/>
<text x="839.10" y="371.50" font-size="12.8" text-anchor="start" fill="#111" textLength="20.7" lengthAdjust="spacingAndGlyphs" >1.5</text>
<path d="M826.9 324.3H832.8" stroke="#111" stroke-width="1.3"/>
<text x="839.10" y="329.20" font-size="12.8" text-anchor="start" fill="#111" textLength="20.7" lengthAdjust="spacingAndGlyphs" >2.0</text>
<path d="M826.9 282H832.8" stroke="#111" stroke-width="1.3"/>
<text x="839.10" y="286.90" font-size="12.8" text-anchor="start" fill="#111" textLength="20.7" lengthAdjust="spacingAndGlyphs" >2.5</text>
<path d="M826.9 239.9H832.8" stroke="#111" stroke-width="1.3"/>
<text x="839.10" y="244.80" font-size="12.8" text-anchor="start" fill="#111" textLength="20.7" lengthAdjust="spacingAndGlyphs" >3.0</text>
<g transform="translate(880.1,327.2) rotate(-90)"><text x="0" y="0" font-size="13.2" fill="#111">V</text><text x="8.6" y="1.2" font-size="9" font-style="italic" fill="#111">p</text><text x="17.6" y="0" font-size="13.2" fill="#111" textLength="38.5" lengthAdjust="spacingAndGlyphs">(km/s)</text></g>
<rect x="1116.3" y="218.6" width="10.2" height="333.6" fill="url(#seisV)" stroke="#111" stroke-width="1"/>
<path d="M1126.5 218.6H1135.4" stroke="#111" stroke-width="1.3"/>
<path d="M1126.5 385.4H1135.4" stroke="#111" stroke-width="1.3"/>
<path d="M1126.5 552.2H1135.4" stroke="#111" stroke-width="1.3"/>
<text x="1139.00" y="225.00" font-size="13.6" text-anchor="start" fill="#111" textLength="28.4" lengthAdjust="spacingAndGlyphs" >0.05</text>
<text x="1139.00" y="391.80" font-size="13.6" text-anchor="start" fill="#111" textLength="28.4" lengthAdjust="spacingAndGlyphs" >0.00</text>
<text x="1139.30" y="558.60" font-size="13.6" text-anchor="start" fill="#111" textLength="41.5" lengthAdjust="spacingAndGlyphs" >−0.05</text>
<text transform="translate(1184.2,392.5) rotate(-90)" font-size="13.6" text-anchor="middle" fill="#111" textLength="90" lengthAdjust="spacingAndGlyphs">REFLECTIVITY</text>
<rect x="1" y="1" width="1198" height="606" fill="none" stroke="#3f0f5e" stroke-width="2.4"/>
</svg></body></html>
